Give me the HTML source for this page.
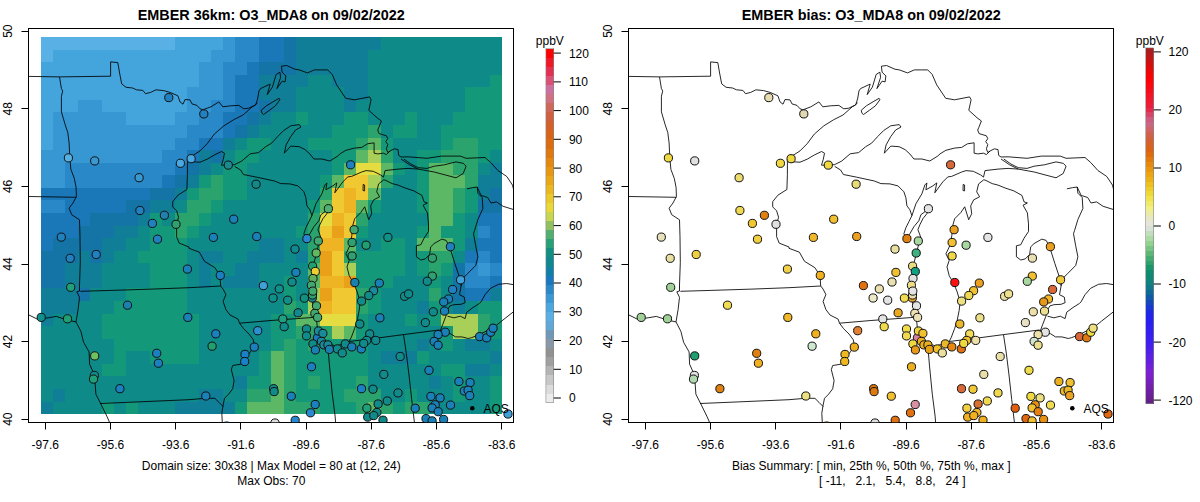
<!DOCTYPE html><html><head><meta charset="utf-8"><style>html,body{margin:0;padding:0;background:#fff;overflow:hidden}svg{display:block}text{font-family:"Liberation Sans",sans-serif}</style></head><body>
<svg width="1200" height="502" viewBox="0 0 1200 502">
<rect width="1200" height="502" fill="#fff"/>
<g shape-rendering="crispEdges">
<rect x="41.20" y="37.00" width="133.62" height="12.87" fill="#58b0e4"/>
<rect x="174.52" y="37.00" width="48.78" height="12.87" fill="#44a4dc"/>
<rect x="223.00" y="37.00" width="12.42" height="12.87" fill="#3797d3"/>
<rect x="235.12" y="37.00" width="24.54" height="12.87" fill="#2888c8"/>
<rect x="259.36" y="37.00" width="24.54" height="12.87" fill="#1a77b8"/>
<rect x="283.60" y="37.00" width="12.42" height="12.87" fill="#1474a6"/>
<rect x="295.72" y="37.00" width="85.14" height="12.87" fill="#0f7e96"/>
<rect x="380.56" y="37.00" width="121.50" height="12.87" fill="#0e8a88"/>
<rect x="41.20" y="49.57" width="12.42" height="12.87" fill="#58b0e4"/>
<rect x="53.32" y="49.57" width="157.86" height="12.87" fill="#44a4dc"/>
<rect x="210.88" y="49.57" width="24.54" height="12.87" fill="#3797d3"/>
<rect x="235.12" y="49.57" width="24.54" height="12.87" fill="#2888c8"/>
<rect x="259.36" y="49.57" width="24.54" height="12.87" fill="#1a77b8"/>
<rect x="283.60" y="49.57" width="12.42" height="12.87" fill="#1474a6"/>
<rect x="295.72" y="49.57" width="73.02" height="12.87" fill="#0f7e96"/>
<rect x="368.44" y="49.57" width="133.62" height="12.87" fill="#0e8a88"/>
<rect x="41.20" y="62.14" width="157.86" height="12.87" fill="#44a4dc"/>
<rect x="198.76" y="62.14" width="24.54" height="12.87" fill="#3797d3"/>
<rect x="223.00" y="62.14" width="24.54" height="12.87" fill="#2888c8"/>
<rect x="247.24" y="62.14" width="12.42" height="12.87" fill="#1a77b8"/>
<rect x="259.36" y="62.14" width="36.66" height="12.87" fill="#1474a6"/>
<rect x="295.72" y="62.14" width="73.02" height="12.87" fill="#0f7e96"/>
<rect x="368.44" y="62.14" width="133.62" height="12.87" fill="#0e8a88"/>
<rect x="41.20" y="74.71" width="157.86" height="12.87" fill="#44a4dc"/>
<rect x="198.76" y="74.71" width="24.54" height="12.87" fill="#3797d3"/>
<rect x="223.00" y="74.71" width="12.42" height="12.87" fill="#2888c8"/>
<rect x="235.12" y="74.71" width="24.54" height="12.87" fill="#1a77b8"/>
<rect x="259.36" y="74.71" width="48.78" height="12.87" fill="#0f7e96"/>
<rect x="307.84" y="74.71" width="24.54" height="12.87" fill="#0e8a88"/>
<rect x="332.08" y="74.71" width="36.66" height="12.87" fill="#0f7e96"/>
<rect x="368.44" y="74.71" width="121.50" height="12.87" fill="#0e8a88"/>
<rect x="489.64" y="74.71" width="12.42" height="12.87" fill="#14987a"/>
<rect x="41.20" y="87.28" width="145.74" height="12.87" fill="#44a4dc"/>
<rect x="186.64" y="87.28" width="36.66" height="12.87" fill="#3797d3"/>
<rect x="223.00" y="87.28" width="12.42" height="12.87" fill="#2888c8"/>
<rect x="235.12" y="87.28" width="24.54" height="12.87" fill="#1a77b8"/>
<rect x="259.36" y="87.28" width="36.66" height="12.87" fill="#0f7e96"/>
<rect x="295.72" y="87.28" width="48.78" height="12.87" fill="#0e8a88"/>
<rect x="344.20" y="87.28" width="24.54" height="12.87" fill="#0f7e96"/>
<rect x="368.44" y="87.28" width="97.26" height="12.87" fill="#0e8a88"/>
<rect x="465.40" y="87.28" width="36.66" height="12.87" fill="#14987a"/>
<rect x="41.20" y="99.85" width="36.66" height="12.87" fill="#44a4dc"/>
<rect x="77.56" y="99.85" width="24.54" height="12.87" fill="#3797d3"/>
<rect x="101.80" y="99.85" width="85.14" height="12.87" fill="#44a4dc"/>
<rect x="186.64" y="99.85" width="24.54" height="12.87" fill="#3797d3"/>
<rect x="210.88" y="99.85" width="24.54" height="12.87" fill="#2888c8"/>
<rect x="235.12" y="99.85" width="24.54" height="12.87" fill="#1a77b8"/>
<rect x="259.36" y="99.85" width="12.42" height="12.87" fill="#1474a6"/>
<rect x="271.48" y="99.85" width="24.54" height="12.87" fill="#0f7e96"/>
<rect x="295.72" y="99.85" width="48.78" height="12.87" fill="#0e8a88"/>
<rect x="344.20" y="99.85" width="12.42" height="12.87" fill="#0f7e96"/>
<rect x="356.32" y="99.85" width="109.38" height="12.87" fill="#0e8a88"/>
<rect x="465.40" y="99.85" width="36.66" height="12.87" fill="#14987a"/>
<rect x="41.20" y="112.42" width="12.42" height="12.87" fill="#44a4dc"/>
<rect x="53.32" y="112.42" width="73.02" height="12.87" fill="#3797d3"/>
<rect x="126.04" y="112.42" width="48.78" height="12.87" fill="#44a4dc"/>
<rect x="174.52" y="112.42" width="24.54" height="12.87" fill="#3797d3"/>
<rect x="198.76" y="112.42" width="24.54" height="12.87" fill="#2888c8"/>
<rect x="223.00" y="112.42" width="24.54" height="12.87" fill="#1a77b8"/>
<rect x="247.24" y="112.42" width="12.42" height="12.87" fill="#1474a6"/>
<rect x="259.36" y="112.42" width="12.42" height="12.87" fill="#0f7e96"/>
<rect x="271.48" y="112.42" width="24.54" height="12.87" fill="#0e8a88"/>
<rect x="295.72" y="112.42" width="12.42" height="12.87" fill="#14987a"/>
<rect x="307.84" y="112.42" width="36.66" height="12.87" fill="#0e8a88"/>
<rect x="344.20" y="112.42" width="24.54" height="12.87" fill="#14987a"/>
<rect x="368.44" y="112.42" width="36.66" height="12.87" fill="#0e8a88"/>
<rect x="404.80" y="112.42" width="12.42" height="12.87" fill="#14987a"/>
<rect x="416.92" y="112.42" width="36.66" height="12.87" fill="#0e8a88"/>
<rect x="453.28" y="112.42" width="48.78" height="12.87" fill="#14987a"/>
<rect x="41.20" y="124.99" width="12.42" height="12.87" fill="#44a4dc"/>
<rect x="53.32" y="124.99" width="133.62" height="12.87" fill="#3797d3"/>
<rect x="186.64" y="124.99" width="36.66" height="12.87" fill="#2888c8"/>
<rect x="223.00" y="124.99" width="12.42" height="12.87" fill="#1a77b8"/>
<rect x="235.12" y="124.99" width="12.42" height="12.87" fill="#1474a6"/>
<rect x="247.24" y="124.99" width="12.42" height="12.87" fill="#0f7e96"/>
<rect x="259.36" y="124.99" width="73.02" height="12.87" fill="#0e8a88"/>
<rect x="332.08" y="124.99" width="36.66" height="12.87" fill="#14987a"/>
<rect x="368.44" y="124.99" width="12.42" height="12.87" fill="#2aa46c"/>
<rect x="380.56" y="124.99" width="12.42" height="12.87" fill="#0e8a88"/>
<rect x="392.68" y="124.99" width="24.54" height="12.87" fill="#14987a"/>
<rect x="416.92" y="124.99" width="24.54" height="12.87" fill="#0e8a88"/>
<rect x="441.16" y="124.99" width="60.90" height="12.87" fill="#14987a"/>
<rect x="41.20" y="137.56" width="12.42" height="12.87" fill="#44a4dc"/>
<rect x="53.32" y="137.56" width="121.50" height="12.87" fill="#3797d3"/>
<rect x="174.52" y="137.56" width="24.54" height="12.87" fill="#2888c8"/>
<rect x="198.76" y="137.56" width="24.54" height="12.87" fill="#1a77b8"/>
<rect x="223.00" y="137.56" width="12.42" height="12.87" fill="#0f7e96"/>
<rect x="235.12" y="137.56" width="12.42" height="12.87" fill="#0e8a88"/>
<rect x="247.24" y="137.56" width="24.54" height="12.87" fill="#14987a"/>
<rect x="271.48" y="137.56" width="36.66" height="12.87" fill="#0e8a88"/>
<rect x="307.84" y="137.56" width="48.78" height="12.87" fill="#14987a"/>
<rect x="356.32" y="137.56" width="12.42" height="12.87" fill="#2aa46c"/>
<rect x="368.44" y="137.56" width="12.42" height="12.87" fill="#5db866"/>
<rect x="380.56" y="137.56" width="12.42" height="12.87" fill="#14987a"/>
<rect x="392.68" y="137.56" width="48.78" height="12.87" fill="#0e8a88"/>
<rect x="441.16" y="137.56" width="12.42" height="12.87" fill="#14987a"/>
<rect x="453.28" y="137.56" width="24.54" height="12.87" fill="#2aa46c"/>
<rect x="477.52" y="137.56" width="24.54" height="12.87" fill="#14987a"/>
<rect x="41.20" y="150.13" width="121.50" height="12.87" fill="#3797d3"/>
<rect x="162.40" y="150.13" width="24.54" height="12.87" fill="#2888c8"/>
<rect x="186.64" y="150.13" width="12.42" height="12.87" fill="#1a77b8"/>
<rect x="198.76" y="150.13" width="12.42" height="12.87" fill="#0f7e96"/>
<rect x="210.88" y="150.13" width="12.42" height="12.87" fill="#1474a6"/>
<rect x="223.00" y="150.13" width="12.42" height="12.87" fill="#0e8a88"/>
<rect x="235.12" y="150.13" width="24.54" height="12.87" fill="#14987a"/>
<rect x="259.36" y="150.13" width="73.02" height="12.87" fill="#0e8a88"/>
<rect x="332.08" y="150.13" width="24.54" height="12.87" fill="#14987a"/>
<rect x="356.32" y="150.13" width="12.42" height="12.87" fill="#5db866"/>
<rect x="368.44" y="150.13" width="12.42" height="12.87" fill="#a8d058"/>
<rect x="380.56" y="150.13" width="12.42" height="12.87" fill="#2aa46c"/>
<rect x="392.68" y="150.13" width="24.54" height="12.87" fill="#0e8a88"/>
<rect x="416.92" y="150.13" width="24.54" height="12.87" fill="#14987a"/>
<rect x="441.16" y="150.13" width="36.66" height="12.87" fill="#2aa46c"/>
<rect x="477.52" y="150.13" width="12.42" height="12.87" fill="#14987a"/>
<rect x="489.64" y="150.13" width="12.42" height="12.87" fill="#0e8a88"/>
<rect x="41.20" y="162.70" width="24.54" height="12.87" fill="#3797d3"/>
<rect x="65.44" y="162.70" width="109.38" height="12.87" fill="#2888c8"/>
<rect x="174.52" y="162.70" width="12.42" height="12.87" fill="#1a77b8"/>
<rect x="186.64" y="162.70" width="12.42" height="12.87" fill="#1474a6"/>
<rect x="198.76" y="162.70" width="12.42" height="12.87" fill="#0f7e96"/>
<rect x="210.88" y="162.70" width="12.42" height="12.87" fill="#0e8a88"/>
<rect x="223.00" y="162.70" width="24.54" height="12.87" fill="#14987a"/>
<rect x="247.24" y="162.70" width="85.14" height="12.87" fill="#0e8a88"/>
<rect x="332.08" y="162.70" width="12.42" height="12.87" fill="#14987a"/>
<rect x="344.20" y="162.70" width="12.42" height="12.87" fill="#5db866"/>
<rect x="356.32" y="162.70" width="24.54" height="12.87" fill="#e4dc40"/>
<rect x="380.56" y="162.70" width="12.42" height="12.87" fill="#5db866"/>
<rect x="392.68" y="162.70" width="12.42" height="12.87" fill="#14987a"/>
<rect x="404.80" y="162.70" width="12.42" height="12.87" fill="#0e8a88"/>
<rect x="416.92" y="162.70" width="12.42" height="12.87" fill="#14987a"/>
<rect x="429.04" y="162.70" width="24.54" height="12.87" fill="#5db866"/>
<rect x="453.28" y="162.70" width="24.54" height="12.87" fill="#2aa46c"/>
<rect x="477.52" y="162.70" width="12.42" height="12.87" fill="#0e8a88"/>
<rect x="489.64" y="162.70" width="12.42" height="12.87" fill="#0f7e96"/>
<rect x="41.20" y="175.27" width="24.54" height="12.87" fill="#3797d3"/>
<rect x="65.44" y="175.27" width="97.26" height="12.87" fill="#2888c8"/>
<rect x="162.40" y="175.27" width="12.42" height="12.87" fill="#1a77b8"/>
<rect x="174.52" y="175.27" width="12.42" height="12.87" fill="#1474a6"/>
<rect x="186.64" y="175.27" width="12.42" height="12.87" fill="#0f7e96"/>
<rect x="198.76" y="175.27" width="12.42" height="12.87" fill="#14987a"/>
<rect x="210.88" y="175.27" width="12.42" height="12.87" fill="#2aa46c"/>
<rect x="223.00" y="175.27" width="24.54" height="12.87" fill="#14987a"/>
<rect x="247.24" y="175.27" width="73.02" height="12.87" fill="#0e8a88"/>
<rect x="319.96" y="175.27" width="12.42" height="12.87" fill="#14987a"/>
<rect x="332.08" y="175.27" width="12.42" height="12.87" fill="#5db866"/>
<rect x="344.20" y="175.27" width="24.54" height="12.87" fill="#f0c832"/>
<rect x="368.44" y="175.27" width="12.42" height="12.87" fill="#a8d058"/>
<rect x="380.56" y="175.27" width="12.42" height="12.87" fill="#2aa46c"/>
<rect x="392.68" y="175.27" width="24.54" height="12.87" fill="#0e8a88"/>
<rect x="416.92" y="175.27" width="12.42" height="12.87" fill="#14987a"/>
<rect x="429.04" y="175.27" width="36.66" height="12.87" fill="#5db866"/>
<rect x="465.40" y="175.27" width="12.42" height="12.87" fill="#2aa46c"/>
<rect x="477.52" y="175.27" width="24.54" height="12.87" fill="#0f7e96"/>
<rect x="41.20" y="187.84" width="109.38" height="12.87" fill="#1a77b8"/>
<rect x="150.28" y="187.84" width="24.54" height="12.87" fill="#1474a6"/>
<rect x="174.52" y="187.84" width="12.42" height="12.87" fill="#0f7e96"/>
<rect x="186.64" y="187.84" width="12.42" height="12.87" fill="#14987a"/>
<rect x="198.76" y="187.84" width="24.54" height="12.87" fill="#2aa46c"/>
<rect x="223.00" y="187.84" width="24.54" height="12.87" fill="#14987a"/>
<rect x="247.24" y="187.84" width="73.02" height="12.87" fill="#0e8a88"/>
<rect x="319.96" y="187.84" width="12.42" height="12.87" fill="#2aa46c"/>
<rect x="332.08" y="187.84" width="12.42" height="12.87" fill="#f0c832"/>
<rect x="344.20" y="187.84" width="12.42" height="12.87" fill="#eeb424"/>
<rect x="356.32" y="187.84" width="12.42" height="12.87" fill="#f0c832"/>
<rect x="368.44" y="187.84" width="12.42" height="12.87" fill="#5db866"/>
<rect x="380.56" y="187.84" width="36.66" height="12.87" fill="#0e8a88"/>
<rect x="416.92" y="187.84" width="12.42" height="12.87" fill="#14987a"/>
<rect x="429.04" y="187.84" width="24.54" height="12.87" fill="#5db866"/>
<rect x="453.28" y="187.84" width="12.42" height="12.87" fill="#2aa46c"/>
<rect x="465.40" y="187.84" width="12.42" height="12.87" fill="#14987a"/>
<rect x="477.52" y="187.84" width="12.42" height="12.87" fill="#0f7e96"/>
<rect x="489.64" y="187.84" width="12.42" height="12.87" fill="#1474a6"/>
<rect x="41.20" y="200.41" width="24.54" height="12.87" fill="#2888c8"/>
<rect x="65.44" y="200.41" width="60.90" height="12.87" fill="#1a77b8"/>
<rect x="126.04" y="200.41" width="24.54" height="12.87" fill="#1474a6"/>
<rect x="150.28" y="200.41" width="24.54" height="12.87" fill="#0f7e96"/>
<rect x="174.52" y="200.41" width="12.42" height="12.87" fill="#0e8a88"/>
<rect x="186.64" y="200.41" width="24.54" height="12.87" fill="#2aa46c"/>
<rect x="210.88" y="200.41" width="12.42" height="12.87" fill="#14987a"/>
<rect x="223.00" y="200.41" width="85.14" height="12.87" fill="#0e8a88"/>
<rect x="307.84" y="200.41" width="12.42" height="12.87" fill="#14987a"/>
<rect x="319.96" y="200.41" width="12.42" height="12.87" fill="#5db866"/>
<rect x="332.08" y="200.41" width="12.42" height="12.87" fill="#f0c832"/>
<rect x="344.20" y="200.41" width="12.42" height="12.87" fill="#eeb424"/>
<rect x="356.32" y="200.41" width="12.42" height="12.87" fill="#5db866"/>
<rect x="368.44" y="200.41" width="12.42" height="12.87" fill="#14987a"/>
<rect x="380.56" y="200.41" width="36.66" height="12.87" fill="#0e8a88"/>
<rect x="416.92" y="200.41" width="12.42" height="12.87" fill="#14987a"/>
<rect x="429.04" y="200.41" width="24.54" height="12.87" fill="#5db866"/>
<rect x="453.28" y="200.41" width="12.42" height="12.87" fill="#2aa46c"/>
<rect x="465.40" y="200.41" width="12.42" height="12.87" fill="#14987a"/>
<rect x="477.52" y="200.41" width="24.54" height="12.87" fill="#1474a6"/>
<rect x="41.20" y="212.98" width="48.78" height="12.87" fill="#1a77b8"/>
<rect x="89.68" y="212.98" width="48.78" height="12.87" fill="#1474a6"/>
<rect x="138.16" y="212.98" width="12.42" height="12.87" fill="#0f7e96"/>
<rect x="150.28" y="212.98" width="12.42" height="12.87" fill="#14987a"/>
<rect x="162.40" y="212.98" width="12.42" height="12.87" fill="#0e8a88"/>
<rect x="174.52" y="212.98" width="24.54" height="12.87" fill="#2aa46c"/>
<rect x="198.76" y="212.98" width="12.42" height="12.87" fill="#14987a"/>
<rect x="210.88" y="212.98" width="97.26" height="12.87" fill="#0e8a88"/>
<rect x="307.84" y="212.98" width="12.42" height="12.87" fill="#2aa46c"/>
<rect x="319.96" y="212.98" width="12.42" height="12.87" fill="#e4dc40"/>
<rect x="332.08" y="212.98" width="12.42" height="12.87" fill="#eeb424"/>
<rect x="344.20" y="212.98" width="12.42" height="12.87" fill="#f0c832"/>
<rect x="356.32" y="212.98" width="12.42" height="12.87" fill="#2aa46c"/>
<rect x="368.44" y="212.98" width="60.90" height="12.87" fill="#0e8a88"/>
<rect x="429.04" y="212.98" width="24.54" height="12.87" fill="#5db866"/>
<rect x="453.28" y="212.98" width="12.42" height="12.87" fill="#14987a"/>
<rect x="465.40" y="212.98" width="12.42" height="12.87" fill="#0e8a88"/>
<rect x="477.52" y="212.98" width="24.54" height="12.87" fill="#1a77b8"/>
<rect x="41.20" y="225.55" width="36.66" height="12.87" fill="#1a77b8"/>
<rect x="77.56" y="225.55" width="36.66" height="12.87" fill="#1474a6"/>
<rect x="113.92" y="225.55" width="24.54" height="12.87" fill="#0f7e96"/>
<rect x="138.16" y="225.55" width="12.42" height="12.87" fill="#0e8a88"/>
<rect x="150.28" y="225.55" width="24.54" height="12.87" fill="#14987a"/>
<rect x="174.52" y="225.55" width="12.42" height="12.87" fill="#2aa46c"/>
<rect x="186.64" y="225.55" width="12.42" height="12.87" fill="#14987a"/>
<rect x="198.76" y="225.55" width="97.26" height="12.87" fill="#0e8a88"/>
<rect x="295.72" y="225.55" width="12.42" height="12.87" fill="#14987a"/>
<rect x="307.84" y="225.55" width="12.42" height="12.87" fill="#2aa46c"/>
<rect x="319.96" y="225.55" width="12.42" height="12.87" fill="#f0c832"/>
<rect x="332.08" y="225.55" width="12.42" height="12.87" fill="#e9a11a"/>
<rect x="344.20" y="225.55" width="12.42" height="12.87" fill="#f0c832"/>
<rect x="356.32" y="225.55" width="12.42" height="12.87" fill="#14987a"/>
<rect x="368.44" y="225.55" width="48.78" height="12.87" fill="#0e8a88"/>
<rect x="416.92" y="225.55" width="12.42" height="12.87" fill="#14987a"/>
<rect x="429.04" y="225.55" width="12.42" height="12.87" fill="#5db866"/>
<rect x="441.16" y="225.55" width="24.54" height="12.87" fill="#14987a"/>
<rect x="465.40" y="225.55" width="12.42" height="12.87" fill="#0e8a88"/>
<rect x="477.52" y="225.55" width="12.42" height="12.87" fill="#2888c8"/>
<rect x="489.64" y="225.55" width="12.42" height="12.87" fill="#1a77b8"/>
<rect x="41.20" y="238.12" width="12.42" height="12.87" fill="#1a77b8"/>
<rect x="53.32" y="238.12" width="48.78" height="12.87" fill="#1474a6"/>
<rect x="101.80" y="238.12" width="24.54" height="12.87" fill="#0f7e96"/>
<rect x="126.04" y="238.12" width="24.54" height="12.87" fill="#0e8a88"/>
<rect x="150.28" y="238.12" width="36.66" height="12.87" fill="#14987a"/>
<rect x="186.64" y="238.12" width="73.02" height="12.87" fill="#0e8a88"/>
<rect x="259.36" y="238.12" width="24.54" height="12.87" fill="#0f7e96"/>
<rect x="283.60" y="238.12" width="24.54" height="12.87" fill="#0e8a88"/>
<rect x="307.84" y="238.12" width="12.42" height="12.87" fill="#2aa46c"/>
<rect x="319.96" y="238.12" width="24.54" height="12.87" fill="#eeb424"/>
<rect x="344.20" y="238.12" width="12.42" height="12.87" fill="#5db866"/>
<rect x="356.32" y="238.12" width="24.54" height="12.87" fill="#0e8a88"/>
<rect x="380.56" y="238.12" width="24.54" height="12.87" fill="#14987a"/>
<rect x="404.80" y="238.12" width="12.42" height="12.87" fill="#0e8a88"/>
<rect x="416.92" y="238.12" width="36.66" height="12.87" fill="#5db866"/>
<rect x="453.28" y="238.12" width="12.42" height="12.87" fill="#14987a"/>
<rect x="465.40" y="238.12" width="12.42" height="12.87" fill="#0f7e96"/>
<rect x="477.52" y="238.12" width="24.54" height="12.87" fill="#1a77b8"/>
<rect x="41.20" y="250.69" width="36.66" height="12.87" fill="#1474a6"/>
<rect x="77.56" y="250.69" width="12.42" height="12.87" fill="#0f7e96"/>
<rect x="89.68" y="250.69" width="12.42" height="12.87" fill="#1474a6"/>
<rect x="101.80" y="250.69" width="12.42" height="12.87" fill="#0f7e96"/>
<rect x="113.92" y="250.69" width="24.54" height="12.87" fill="#0e8a88"/>
<rect x="138.16" y="250.69" width="48.78" height="12.87" fill="#14987a"/>
<rect x="186.64" y="250.69" width="12.42" height="12.87" fill="#0e8a88"/>
<rect x="198.76" y="250.69" width="24.54" height="12.87" fill="#0f7e96"/>
<rect x="223.00" y="250.69" width="24.54" height="12.87" fill="#0e8a88"/>
<rect x="247.24" y="250.69" width="36.66" height="12.87" fill="#0f7e96"/>
<rect x="283.60" y="250.69" width="12.42" height="12.87" fill="#0e8a88"/>
<rect x="295.72" y="250.69" width="12.42" height="12.87" fill="#0f7e96"/>
<rect x="307.84" y="250.69" width="12.42" height="12.87" fill="#2aa46c"/>
<rect x="319.96" y="250.69" width="12.42" height="12.87" fill="#e9a11a"/>
<rect x="332.08" y="250.69" width="12.42" height="12.87" fill="#f0c832"/>
<rect x="344.20" y="250.69" width="12.42" height="12.87" fill="#2aa46c"/>
<rect x="356.32" y="250.69" width="48.78" height="12.87" fill="#14987a"/>
<rect x="404.80" y="250.69" width="12.42" height="12.87" fill="#0e8a88"/>
<rect x="416.92" y="250.69" width="12.42" height="12.87" fill="#14987a"/>
<rect x="429.04" y="250.69" width="24.54" height="12.87" fill="#2aa46c"/>
<rect x="453.28" y="250.69" width="12.42" height="12.87" fill="#0e8a88"/>
<rect x="465.40" y="250.69" width="12.42" height="12.87" fill="#1a77b8"/>
<rect x="477.52" y="250.69" width="12.42" height="12.87" fill="#2888c8"/>
<rect x="489.64" y="250.69" width="12.42" height="12.87" fill="#1a77b8"/>
<rect x="41.20" y="263.26" width="24.54" height="12.87" fill="#1474a6"/>
<rect x="65.44" y="263.26" width="36.66" height="12.87" fill="#0f7e96"/>
<rect x="101.80" y="263.26" width="48.78" height="12.87" fill="#0e8a88"/>
<rect x="150.28" y="263.26" width="36.66" height="12.87" fill="#14987a"/>
<rect x="186.64" y="263.26" width="12.42" height="12.87" fill="#0e8a88"/>
<rect x="198.76" y="263.26" width="12.42" height="12.87" fill="#0f7e96"/>
<rect x="210.88" y="263.26" width="24.54" height="12.87" fill="#0e8a88"/>
<rect x="235.12" y="263.26" width="24.54" height="12.87" fill="#0f7e96"/>
<rect x="259.36" y="263.26" width="48.78" height="12.87" fill="#0e8a88"/>
<rect x="307.84" y="263.26" width="12.42" height="12.87" fill="#5db866"/>
<rect x="319.96" y="263.26" width="12.42" height="12.87" fill="#e9a11a"/>
<rect x="332.08" y="263.26" width="12.42" height="12.87" fill="#f0c832"/>
<rect x="344.20" y="263.26" width="12.42" height="12.87" fill="#a8d058"/>
<rect x="356.32" y="263.26" width="48.78" height="12.87" fill="#14987a"/>
<rect x="404.80" y="263.26" width="12.42" height="12.87" fill="#0e8a88"/>
<rect x="416.92" y="263.26" width="12.42" height="12.87" fill="#14987a"/>
<rect x="429.04" y="263.26" width="12.42" height="12.87" fill="#2aa46c"/>
<rect x="441.16" y="263.26" width="12.42" height="12.87" fill="#14987a"/>
<rect x="453.28" y="263.26" width="12.42" height="12.87" fill="#1474a6"/>
<rect x="465.40" y="263.26" width="12.42" height="12.87" fill="#2888c8"/>
<rect x="477.52" y="263.26" width="12.42" height="12.87" fill="#3797d3"/>
<rect x="489.64" y="263.26" width="12.42" height="12.87" fill="#2888c8"/>
<rect x="41.20" y="275.83" width="24.54" height="12.87" fill="#1474a6"/>
<rect x="65.44" y="275.83" width="36.66" height="12.87" fill="#0f7e96"/>
<rect x="101.80" y="275.83" width="48.78" height="12.87" fill="#0e8a88"/>
<rect x="150.28" y="275.83" width="36.66" height="12.87" fill="#14987a"/>
<rect x="186.64" y="275.83" width="12.42" height="12.87" fill="#0e8a88"/>
<rect x="198.76" y="275.83" width="12.42" height="12.87" fill="#0f7e96"/>
<rect x="210.88" y="275.83" width="12.42" height="12.87" fill="#0e8a88"/>
<rect x="223.00" y="275.83" width="36.66" height="12.87" fill="#0f7e96"/>
<rect x="259.36" y="275.83" width="24.54" height="12.87" fill="#0e8a88"/>
<rect x="283.60" y="275.83" width="12.42" height="12.87" fill="#14987a"/>
<rect x="295.72" y="275.83" width="12.42" height="12.87" fill="#0e8a88"/>
<rect x="307.84" y="275.83" width="12.42" height="12.87" fill="#5db866"/>
<rect x="319.96" y="275.83" width="24.54" height="12.87" fill="#eeb424"/>
<rect x="344.20" y="275.83" width="12.42" height="12.87" fill="#e9a11a"/>
<rect x="356.32" y="275.83" width="36.66" height="12.87" fill="#14987a"/>
<rect x="392.68" y="275.83" width="36.66" height="12.87" fill="#0e8a88"/>
<rect x="429.04" y="275.83" width="12.42" height="12.87" fill="#14987a"/>
<rect x="441.16" y="275.83" width="12.42" height="12.87" fill="#0e8a88"/>
<rect x="453.28" y="275.83" width="12.42" height="12.87" fill="#1474a6"/>
<rect x="465.40" y="275.83" width="24.54" height="12.87" fill="#2888c8"/>
<rect x="489.64" y="275.83" width="12.42" height="12.87" fill="#1a77b8"/>
<rect x="41.20" y="288.40" width="36.66" height="12.87" fill="#0f7e96"/>
<rect x="77.56" y="288.40" width="12.42" height="12.87" fill="#1474a6"/>
<rect x="89.68" y="288.40" width="36.66" height="12.87" fill="#0e8a88"/>
<rect x="126.04" y="288.40" width="60.90" height="12.87" fill="#14987a"/>
<rect x="186.64" y="288.40" width="97.26" height="12.87" fill="#0e8a88"/>
<rect x="283.60" y="288.40" width="12.42" height="12.87" fill="#14987a"/>
<rect x="295.72" y="288.40" width="12.42" height="12.87" fill="#0e8a88"/>
<rect x="307.84" y="288.40" width="12.42" height="12.87" fill="#a8d058"/>
<rect x="319.96" y="288.40" width="12.42" height="12.87" fill="#e9a11a"/>
<rect x="332.08" y="288.40" width="24.54" height="12.87" fill="#f0c832"/>
<rect x="356.32" y="288.40" width="12.42" height="12.87" fill="#2aa46c"/>
<rect x="368.44" y="288.40" width="12.42" height="12.87" fill="#14987a"/>
<rect x="380.56" y="288.40" width="48.78" height="12.87" fill="#0e8a88"/>
<rect x="429.04" y="288.40" width="12.42" height="12.87" fill="#2aa46c"/>
<rect x="441.16" y="288.40" width="12.42" height="12.87" fill="#0e8a88"/>
<rect x="453.28" y="288.40" width="12.42" height="12.87" fill="#1474a6"/>
<rect x="465.40" y="288.40" width="24.54" height="12.87" fill="#1a77b8"/>
<rect x="489.64" y="288.40" width="12.42" height="12.87" fill="#0f7e96"/>
<rect x="41.20" y="300.97" width="36.66" height="12.87" fill="#0f7e96"/>
<rect x="77.56" y="300.97" width="36.66" height="12.87" fill="#0e8a88"/>
<rect x="113.92" y="300.97" width="73.02" height="12.87" fill="#14987a"/>
<rect x="186.64" y="300.97" width="97.26" height="12.87" fill="#0e8a88"/>
<rect x="283.60" y="300.97" width="12.42" height="12.87" fill="#2aa46c"/>
<rect x="295.72" y="300.97" width="12.42" height="12.87" fill="#14987a"/>
<rect x="307.84" y="300.97" width="12.42" height="12.87" fill="#a8d058"/>
<rect x="319.96" y="300.97" width="12.42" height="12.87" fill="#eeb424"/>
<rect x="332.08" y="300.97" width="24.54" height="12.87" fill="#f0c832"/>
<rect x="356.32" y="300.97" width="12.42" height="12.87" fill="#2aa46c"/>
<rect x="368.44" y="300.97" width="12.42" height="12.87" fill="#14987a"/>
<rect x="380.56" y="300.97" width="36.66" height="12.87" fill="#0e8a88"/>
<rect x="416.92" y="300.97" width="12.42" height="12.87" fill="#0f7e96"/>
<rect x="429.04" y="300.97" width="12.42" height="12.87" fill="#14987a"/>
<rect x="441.16" y="300.97" width="12.42" height="12.87" fill="#0e8a88"/>
<rect x="453.28" y="300.97" width="12.42" height="12.87" fill="#0f7e96"/>
<rect x="465.40" y="300.97" width="12.42" height="12.87" fill="#0e8a88"/>
<rect x="477.52" y="300.97" width="24.54" height="12.87" fill="#14987a"/>
<rect x="41.20" y="313.54" width="12.42" height="12.87" fill="#0f7e96"/>
<rect x="53.32" y="313.54" width="48.78" height="12.87" fill="#0e8a88"/>
<rect x="101.80" y="313.54" width="97.26" height="12.87" fill="#14987a"/>
<rect x="198.76" y="313.54" width="73.02" height="12.87" fill="#0e8a88"/>
<rect x="271.48" y="313.54" width="24.54" height="12.87" fill="#14987a"/>
<rect x="295.72" y="313.54" width="24.54" height="12.87" fill="#5db866"/>
<rect x="319.96" y="313.54" width="36.66" height="12.87" fill="#e4dc40"/>
<rect x="356.32" y="313.54" width="12.42" height="12.87" fill="#14987a"/>
<rect x="368.44" y="313.54" width="36.66" height="12.87" fill="#0e8a88"/>
<rect x="404.80" y="313.54" width="12.42" height="12.87" fill="#14987a"/>
<rect x="416.92" y="313.54" width="12.42" height="12.87" fill="#0e8a88"/>
<rect x="429.04" y="313.54" width="12.42" height="12.87" fill="#14987a"/>
<rect x="441.16" y="313.54" width="36.66" height="12.87" fill="#a8d058"/>
<rect x="477.52" y="313.54" width="12.42" height="12.87" fill="#2aa46c"/>
<rect x="489.64" y="313.54" width="12.42" height="12.87" fill="#14987a"/>
<rect x="41.20" y="326.11" width="60.90" height="12.87" fill="#0e8a88"/>
<rect x="101.80" y="326.11" width="97.26" height="12.87" fill="#14987a"/>
<rect x="198.76" y="326.11" width="73.02" height="12.87" fill="#0e8a88"/>
<rect x="271.48" y="326.11" width="24.54" height="12.87" fill="#14987a"/>
<rect x="295.72" y="326.11" width="36.66" height="12.87" fill="#2aa46c"/>
<rect x="332.08" y="326.11" width="12.42" height="12.87" fill="#a8d058"/>
<rect x="344.20" y="326.11" width="12.42" height="12.87" fill="#5db866"/>
<rect x="356.32" y="326.11" width="12.42" height="12.87" fill="#14987a"/>
<rect x="368.44" y="326.11" width="73.02" height="12.87" fill="#0e8a88"/>
<rect x="441.16" y="326.11" width="12.42" height="12.87" fill="#14987a"/>
<rect x="453.28" y="326.11" width="24.54" height="12.87" fill="#a8d058"/>
<rect x="477.52" y="326.11" width="12.42" height="12.87" fill="#2aa46c"/>
<rect x="489.64" y="326.11" width="12.42" height="12.87" fill="#14987a"/>
<rect x="41.20" y="338.68" width="73.02" height="12.87" fill="#0e8a88"/>
<rect x="113.92" y="338.68" width="85.14" height="12.87" fill="#14987a"/>
<rect x="198.76" y="338.68" width="73.02" height="12.87" fill="#0e8a88"/>
<rect x="271.48" y="338.68" width="12.42" height="12.87" fill="#14987a"/>
<rect x="283.60" y="338.68" width="12.42" height="12.87" fill="#2aa46c"/>
<rect x="295.72" y="338.68" width="12.42" height="12.87" fill="#14987a"/>
<rect x="307.84" y="338.68" width="12.42" height="12.87" fill="#2aa46c"/>
<rect x="319.96" y="338.68" width="48.78" height="12.87" fill="#14987a"/>
<rect x="368.44" y="338.68" width="48.78" height="12.87" fill="#0e8a88"/>
<rect x="416.92" y="338.68" width="12.42" height="12.87" fill="#0f7e96"/>
<rect x="429.04" y="338.68" width="12.42" height="12.87" fill="#0e8a88"/>
<rect x="441.16" y="338.68" width="12.42" height="12.87" fill="#14987a"/>
<rect x="453.28" y="338.68" width="12.42" height="12.87" fill="#0e8a88"/>
<rect x="465.40" y="338.68" width="24.54" height="12.87" fill="#0f7e96"/>
<rect x="489.64" y="338.68" width="12.42" height="12.87" fill="#0e8a88"/>
<rect x="41.20" y="351.25" width="73.02" height="12.87" fill="#0e8a88"/>
<rect x="113.92" y="351.25" width="12.42" height="12.87" fill="#14987a"/>
<rect x="126.04" y="351.25" width="24.54" height="12.87" fill="#0e8a88"/>
<rect x="150.28" y="351.25" width="48.78" height="12.87" fill="#14987a"/>
<rect x="198.76" y="351.25" width="60.90" height="12.87" fill="#0e8a88"/>
<rect x="259.36" y="351.25" width="12.42" height="12.87" fill="#14987a"/>
<rect x="271.48" y="351.25" width="12.42" height="12.87" fill="#5db866"/>
<rect x="283.60" y="351.25" width="12.42" height="12.87" fill="#2aa46c"/>
<rect x="295.72" y="351.25" width="73.02" height="12.87" fill="#14987a"/>
<rect x="368.44" y="351.25" width="12.42" height="12.87" fill="#0e8a88"/>
<rect x="380.56" y="351.25" width="36.66" height="12.87" fill="#0f7e96"/>
<rect x="416.92" y="351.25" width="12.42" height="12.87" fill="#14987a"/>
<rect x="429.04" y="351.25" width="60.90" height="12.87" fill="#0e8a88"/>
<rect x="489.64" y="351.25" width="12.42" height="12.87" fill="#0f7e96"/>
<rect x="41.20" y="363.82" width="60.90" height="12.87" fill="#0e8a88"/>
<rect x="101.80" y="363.82" width="24.54" height="12.87" fill="#14987a"/>
<rect x="126.04" y="363.82" width="133.62" height="12.87" fill="#0e8a88"/>
<rect x="259.36" y="363.82" width="12.42" height="12.87" fill="#14987a"/>
<rect x="271.48" y="363.82" width="12.42" height="12.87" fill="#5db866"/>
<rect x="283.60" y="363.82" width="12.42" height="12.87" fill="#2aa46c"/>
<rect x="295.72" y="363.82" width="73.02" height="12.87" fill="#14987a"/>
<rect x="368.44" y="363.82" width="73.02" height="12.87" fill="#0e8a88"/>
<rect x="441.16" y="363.82" width="24.54" height="12.87" fill="#14987a"/>
<rect x="465.40" y="363.82" width="24.54" height="12.87" fill="#0f7e96"/>
<rect x="489.64" y="363.82" width="12.42" height="12.87" fill="#0e8a88"/>
<rect x="41.20" y="376.39" width="194.22" height="12.87" fill="#0e8a88"/>
<rect x="235.12" y="376.39" width="12.42" height="12.87" fill="#0f7e96"/>
<rect x="247.24" y="376.39" width="24.54" height="12.87" fill="#14987a"/>
<rect x="271.48" y="376.39" width="12.42" height="12.87" fill="#5db866"/>
<rect x="283.60" y="376.39" width="12.42" height="12.87" fill="#2aa46c"/>
<rect x="295.72" y="376.39" width="12.42" height="12.87" fill="#14987a"/>
<rect x="307.84" y="376.39" width="12.42" height="12.87" fill="#2aa46c"/>
<rect x="319.96" y="376.39" width="36.66" height="12.87" fill="#14987a"/>
<rect x="356.32" y="376.39" width="12.42" height="12.87" fill="#2aa46c"/>
<rect x="368.44" y="376.39" width="60.90" height="12.87" fill="#0e8a88"/>
<rect x="429.04" y="376.39" width="12.42" height="12.87" fill="#0f7e96"/>
<rect x="441.16" y="376.39" width="12.42" height="12.87" fill="#0e8a88"/>
<rect x="453.28" y="376.39" width="12.42" height="12.87" fill="#14987a"/>
<rect x="465.40" y="376.39" width="24.54" height="12.87" fill="#0e8a88"/>
<rect x="489.64" y="376.39" width="12.42" height="12.87" fill="#14987a"/>
<rect x="41.20" y="388.96" width="12.42" height="12.87" fill="#0e8a88"/>
<rect x="53.32" y="388.96" width="12.42" height="12.87" fill="#0f7e96"/>
<rect x="65.44" y="388.96" width="133.62" height="12.87" fill="#0e8a88"/>
<rect x="198.76" y="388.96" width="24.54" height="12.87" fill="#0f7e96"/>
<rect x="223.00" y="388.96" width="24.54" height="12.87" fill="#0e8a88"/>
<rect x="247.24" y="388.96" width="24.54" height="12.87" fill="#2aa46c"/>
<rect x="271.48" y="388.96" width="12.42" height="12.87" fill="#5db866"/>
<rect x="283.60" y="388.96" width="12.42" height="12.87" fill="#2aa46c"/>
<rect x="295.72" y="388.96" width="48.78" height="12.87" fill="#14987a"/>
<rect x="344.20" y="388.96" width="36.66" height="12.87" fill="#2aa46c"/>
<rect x="380.56" y="388.96" width="24.54" height="12.87" fill="#0e8a88"/>
<rect x="404.80" y="388.96" width="12.42" height="12.87" fill="#14987a"/>
<rect x="416.92" y="388.96" width="36.66" height="12.87" fill="#0e8a88"/>
<rect x="453.28" y="388.96" width="12.42" height="12.87" fill="#14987a"/>
<rect x="465.40" y="388.96" width="24.54" height="12.87" fill="#0e8a88"/>
<rect x="489.64" y="388.96" width="12.42" height="12.87" fill="#14987a"/>
<rect x="41.20" y="401.53" width="12.42" height="12.87" fill="#0f7e96"/>
<rect x="53.32" y="401.53" width="48.78" height="12.87" fill="#0e8a88"/>
<rect x="101.80" y="401.53" width="12.42" height="12.87" fill="#14987a"/>
<rect x="113.92" y="401.53" width="12.42" height="12.87" fill="#0e8a88"/>
<rect x="126.04" y="401.53" width="12.42" height="12.87" fill="#14987a"/>
<rect x="138.16" y="401.53" width="36.66" height="12.87" fill="#0e8a88"/>
<rect x="174.52" y="401.53" width="60.90" height="12.87" fill="#0f7e96"/>
<rect x="235.12" y="401.53" width="12.42" height="12.87" fill="#14987a"/>
<rect x="247.24" y="401.53" width="36.66" height="12.87" fill="#5db866"/>
<rect x="283.60" y="401.53" width="36.66" height="12.87" fill="#2aa46c"/>
<rect x="319.96" y="401.53" width="36.66" height="12.87" fill="#14987a"/>
<rect x="356.32" y="401.53" width="12.42" height="12.87" fill="#2aa46c"/>
<rect x="368.44" y="401.53" width="12.42" height="12.87" fill="#5db866"/>
<rect x="380.56" y="401.53" width="12.42" height="12.87" fill="#2aa46c"/>
<rect x="392.68" y="401.53" width="12.42" height="12.87" fill="#14987a"/>
<rect x="404.80" y="401.53" width="24.54" height="12.87" fill="#2aa46c"/>
<rect x="429.04" y="401.53" width="60.90" height="12.87" fill="#0e8a88"/>
<rect x="489.64" y="401.53" width="12.42" height="12.87" fill="#14987a"/>
</g>
<rect x="28.5" y="28.5" width="485" height="394" fill="none" stroke="#000" stroke-width="1"/>
<line x1="45.5" y1="422.5" x2="45.5" y2="429.5" stroke="#000" stroke-width="1"/>
<text x="45.3" y="448.5" font-size="12" text-anchor="middle">-97.6</text>
<line x1="110.5" y1="422.5" x2="110.5" y2="429.5" stroke="#000" stroke-width="1"/>
<text x="110.5" y="448.5" font-size="12" text-anchor="middle">-95.6</text>
<line x1="175.5" y1="422.5" x2="175.5" y2="429.5" stroke="#000" stroke-width="1"/>
<text x="175.7" y="448.5" font-size="12" text-anchor="middle">-93.6</text>
<line x1="240.5" y1="422.5" x2="240.5" y2="429.5" stroke="#000" stroke-width="1"/>
<text x="240.9" y="448.5" font-size="12" text-anchor="middle">-91.6</text>
<line x1="306.5" y1="422.5" x2="306.5" y2="429.5" stroke="#000" stroke-width="1"/>
<text x="306.1" y="448.5" font-size="12" text-anchor="middle">-89.6</text>
<line x1="371.5" y1="422.5" x2="371.5" y2="429.5" stroke="#000" stroke-width="1"/>
<text x="371.3" y="448.5" font-size="12" text-anchor="middle">-87.6</text>
<line x1="436.5" y1="422.5" x2="436.5" y2="429.5" stroke="#000" stroke-width="1"/>
<text x="436.5" y="448.5" font-size="12" text-anchor="middle">-85.6</text>
<line x1="501.5" y1="422.5" x2="501.5" y2="429.5" stroke="#000" stroke-width="1"/>
<text x="501.7" y="448.5" font-size="12" text-anchor="middle">-83.6</text>
<line x1="21.5" y1="419.5" x2="28.5" y2="419.5" stroke="#000" stroke-width="1"/>
<text transform="translate(11.5,419.2) rotate(-90)" font-size="12" text-anchor="middle">40</text>
<line x1="21.5" y1="341.5" x2="28.5" y2="341.5" stroke="#000" stroke-width="1"/>
<text transform="translate(11.5,341.6) rotate(-90)" font-size="12" text-anchor="middle">42</text>
<line x1="21.5" y1="264.5" x2="28.5" y2="264.5" stroke="#000" stroke-width="1"/>
<text transform="translate(11.5,264.0) rotate(-90)" font-size="12" text-anchor="middle">44</text>
<line x1="21.5" y1="186.5" x2="28.5" y2="186.5" stroke="#000" stroke-width="1"/>
<text transform="translate(11.5,186.4) rotate(-90)" font-size="12" text-anchor="middle">46</text>
<line x1="21.5" y1="108.5" x2="28.5" y2="108.5" stroke="#000" stroke-width="1"/>
<text transform="translate(11.5,108.8) rotate(-90)" font-size="12" text-anchor="middle">48</text>
<line x1="21.5" y1="31.5" x2="28.5" y2="31.5" stroke="#000" stroke-width="1"/>
<text transform="translate(11.5,31.2) rotate(-90)" font-size="12" text-anchor="middle">50</text>
<rect x="628.5" y="28.5" width="485" height="394" fill="none" stroke="#000" stroke-width="1"/>
<line x1="645.5" y1="422.5" x2="645.5" y2="429.5" stroke="#000" stroke-width="1"/>
<text x="645.3" y="448.5" font-size="12" text-anchor="middle">-97.6</text>
<line x1="710.5" y1="422.5" x2="710.5" y2="429.5" stroke="#000" stroke-width="1"/>
<text x="710.5" y="448.5" font-size="12" text-anchor="middle">-95.6</text>
<line x1="775.5" y1="422.5" x2="775.5" y2="429.5" stroke="#000" stroke-width="1"/>
<text x="775.7" y="448.5" font-size="12" text-anchor="middle">-93.6</text>
<line x1="840.5" y1="422.5" x2="840.5" y2="429.5" stroke="#000" stroke-width="1"/>
<text x="840.9" y="448.5" font-size="12" text-anchor="middle">-91.6</text>
<line x1="906.5" y1="422.5" x2="906.5" y2="429.5" stroke="#000" stroke-width="1"/>
<text x="906.1" y="448.5" font-size="12" text-anchor="middle">-89.6</text>
<line x1="971.5" y1="422.5" x2="971.5" y2="429.5" stroke="#000" stroke-width="1"/>
<text x="971.3" y="448.5" font-size="12" text-anchor="middle">-87.6</text>
<line x1="1036.5" y1="422.5" x2="1036.5" y2="429.5" stroke="#000" stroke-width="1"/>
<text x="1036.5" y="448.5" font-size="12" text-anchor="middle">-85.6</text>
<line x1="1101.5" y1="422.5" x2="1101.5" y2="429.5" stroke="#000" stroke-width="1"/>
<text x="1101.7" y="448.5" font-size="12" text-anchor="middle">-83.6</text>
<line x1="621.5" y1="419.5" x2="628.5" y2="419.5" stroke="#000" stroke-width="1"/>
<text transform="translate(611.5,419.2) rotate(-90)" font-size="12" text-anchor="middle">40</text>
<line x1="621.5" y1="341.5" x2="628.5" y2="341.5" stroke="#000" stroke-width="1"/>
<text transform="translate(611.5,341.6) rotate(-90)" font-size="12" text-anchor="middle">42</text>
<line x1="621.5" y1="264.5" x2="628.5" y2="264.5" stroke="#000" stroke-width="1"/>
<text transform="translate(611.5,264.0) rotate(-90)" font-size="12" text-anchor="middle">44</text>
<line x1="621.5" y1="186.5" x2="628.5" y2="186.5" stroke="#000" stroke-width="1"/>
<text transform="translate(611.5,186.4) rotate(-90)" font-size="12" text-anchor="middle">46</text>
<line x1="621.5" y1="108.5" x2="628.5" y2="108.5" stroke="#000" stroke-width="1"/>
<text transform="translate(611.5,108.8) rotate(-90)" font-size="12" text-anchor="middle">48</text>
<line x1="621.5" y1="31.5" x2="628.5" y2="31.5" stroke="#000" stroke-width="1"/>
<text transform="translate(611.5,31.2) rotate(-90)" font-size="12" text-anchor="middle">50</text>
<text x="271.3" y="20" font-size="14.4" font-weight="bold" text-anchor="middle">EMBER 36km: O3_MDA8 on 09/02/2022</text>
<text x="871.3" y="20" font-size="14.4" font-weight="bold" text-anchor="middle">EMBER bias: O3_MDA8 on 09/02/2022</text>
<text x="271.3" y="470" font-size="12" text-anchor="middle">Domain size: 30x38 | Max Model = 80 at (12, 24)</text>
<text x="271.3" y="484.5" font-size="12" text-anchor="middle">Max Obs: 70</text>
<text x="871.3" y="470" font-size="12" text-anchor="middle">Bias Summary: [ min, 25th %, 50th %, 75th %, max ]</text>
<text x="892.3" y="484.5" font-size="12" text-anchor="middle" xml:space="preserve">[ -11,   2.1,   5.4,   8.8,   24 ]</text>
<defs><clipPath id="cl"><rect x="28.9" y="28.7" width="484.8" height="393.5"/></clipPath><clipPath id="cr"><rect x="628.9" y="28.7" width="484.8" height="393.5"/></clipPath></defs>
<g clip-path="url(#cl)" fill="none" stroke="#000" stroke-width="0.85" stroke-linejoin="round">
<polyline points="29.0,76.4 59.5,76.9 110.6,76.2 110.6,61.9 117.8,62.6 119.6,73.0 121.7,83.9 126.1,87.3 132.6,88.0 136.4,89.8 142.9,90.4 145.5,93.7 150.7,92.4 155.9,89.8 163.6,90.6 170.1,92.4 177.9,95.8 180.0,101.9 183.0,104.2 185.0,99.5 190.0,99.9 192.0,103.9 197.0,105.4 200.0,108.8 202.9,109.8 210.9,106.8 218.9,101.9 222.8,106.8 230.8,105.8 238.8,105.4 243.8,108.8 248.7,108.2 254.7,105.4 257.6,102.8"/>
<polyline points="59.5,76.9 61.4,88.5 62.7,91.1 61.4,96.3 61.4,111.8 65.2,124.8 67.8,132.6 69.1,142.9 69.9,159.0 70.9,169.4 74.3,178.4 76.1,187.5 76.4,196.5 73.0,203.0 69.1,208.2 71.7,214.7 79.5,219.8 80.0,236.7 80.3,262.6 79.5,285.0 79.5,291.0"/>
<polyline points="29.0,196.5 76.4,197.3"/>
<polyline points="79.5,291.0 76.8,291.8 79.5,297.3 78.1,309.6 76.0,321.9 80.9,331.4 83.6,342.3 89.1,351.9 89.6,364.2 94.5,375.1 95.9,394.2 101.4,405.1 106.8,416.1 109.5,422.2"/>
<polyline points="29.0,315.0 37.2,319.1 48.1,317.8 56.3,316.4 67.2,320.0 76.0,321.9"/>
<polyline points="80.4,291.3 110.9,290.4 151.9,289.1 189.0,287.7 220.7,286.0"/>
<polyline points="100.0,403.5 138.2,401.9 189.0,399.7 205.4,398.3 214.9,398.3 219.0,402.4 223.1,406.5"/>
<polyline points="189.0,158.0 187.4,159.0 187.4,174.5 186.9,189.5 177.9,195.2 172.7,201.7 172.7,206.9 176.6,210.8 178.6,217.3 176.6,223.7 176.6,236.7 179.2,243.1 189.0,247.0 189.0,248.3 199.4,252.2 204.5,261.3 214.9,267.7 220.0,275.5 220.7,286.0 223.1,289.1 225.9,294.6 223.1,301.4 225.9,309.6 230.0,315.0 238.1,319.1 239.5,323.2 243.6,328.7 249.1,334.1 253.2,339.6 254.5,345.1 250.4,351.9 246.3,357.4 240.9,364.2 232.7,365.5 231.3,369.6 234.1,380.6 232.7,388.8 228.6,394.2 224.5,398.3 223.1,405.1 221.8,413.3 222.3,422.2"/>
<polyline points="239.5,323.2 270.9,320.5 316.3,317.2"/>
<polyline points="189.0,158.0 200.0,150.9 207.2,143.7 214.3,134.1 223.9,125.8 233.5,119.8 243.0,115.0 252.4,106.7 255.7,104.8 257.6,98.9 259.0,90.9 260.5,88.6 270.2,84.1 267.2,94.6 272.4,87.1 276.2,74.4 279.9,72.2 280.6,77.4 276.9,88.6 282.1,81.2 285.1,81.9 285.9,75.9 282.1,72.2 281.4,66.2 286.6,65.5 294.8,69.2 299.3,69.9 307.5,72.9 314.3,69.9 321.7,69.9 327.7,69.9 332.2,74.4 336.7,84.9 345.7,98.3 354.6,99.8 369.6,96.9 371.1,99.8 368.8,110.3 377.1,117.8 381.4,121.0 378.8,127.4 377.7,130.0 379.1,133.6 386.4,135.8 387.8,138.7 385.7,141.6 387.8,144.5 386.4,148.8 387.8,152.5 390.0,151.0 394.4,148.8 398.0,149.6 398.7,155.4 401.0,157.0 408.0,156.8 427.0,158.3 441.5,156.1 460.3,156.1 466.1,158.3 485.0,157.5 490.8,162.6 498.0,170.6 506.7,176.4 512.5,185.1 513.7,190.0"/>
<polyline points="262.0,113.3 261.2,110.3 266.4,105.8 273.9,101.3 279.1,98.3 279.9,99.8 275.4,105.8 269.4,110.3 263.5,114.5 262.0,113.3"/>
<polyline points="189.0,158.0 189.0,161.6 200.0,162.2 207.2,159.2 214.3,155.0 221.5,151.5 224.5,153.2 223.3,159.2 221.5,165.2 228.7,165.2 234.7,164.6 241.8,161.0 250.2,153.8 258.6,152.6 265.7,146.7 271.7,143.1 277.7,136.5 283.7,130.5 290.8,125.8 299.2,124.6 301.0,127.0 295.6,130.0 290.8,136.5 286.1,144.9 284.3,153.2 290.8,146.1 299.2,146.7 305.2,149.7 309.9,154.0 313.9,159.0 321.9,159.0 329.8,161.0 337.8,156.0 340.0,153.9 345.8,150.3 354.5,148.1 361.7,147.4 367.5,143.8 374.1,142.8 374.1,153.2 377.7,153.9 383.5,153.2 386.4,154.6 390.0,151.0"/>
<polyline points="234.7,166.4 240.6,170.0 243.4,174.5 256.3,177.1 274.4,181.0 280.9,183.6 290.0,183.9 298.0,185.9 303.9,191.8 305.9,197.8 306.9,205.8 309.9,209.8 311.9,215.7"/>
<polyline points="311.9,215.7 308.9,221.7 305.9,227.7 303.9,233.7 305.9,238.6 309.9,233.7 313.9,226.7 318.9,220.7 320.9,214.7 324.9,211.8 327.0,209.5 326.9,213.7 322.9,218.7 319.9,224.7 317.9,229.7 320.9,237.6 318.5,245.0 316.3,253.8 314.1,262.5 313.0,271.3 310.8,280.1 309.7,288.9 311.9,299.8 314.1,308.6 316.3,317.4 317.4,328.3 320.7,337.1 327.3,343.7 336.0,345.9 344.8,343.7 349.2,341.5 351.4,337.1 354.7,328.3 356.9,321.8 359.1,310.8 360.2,302.0 356.9,291.1 353.6,283.4 349.2,275.7 347.0,266.9 349.2,260.4 345.9,253.8 347.8,250.0 349.8,245.6 351.8,235.7 352.7,225.7 354.7,218.7 360.7,212.7 364.7,206.8 368.7,219.7 371.7,213.7 370.7,205.8 373.7,199.8 379.6,196.8 376.7,191.8 378.6,183.9 383.6,179.9 385.0,180.0 392.2,183.6 398.0,185.1 405.2,188.0 413.9,190.9 421.9,195.4 424.1,201.9 427.4,203.0 423.0,205.2 427.4,212.9 428.5,223.9 428.5,231.5 424.1,238.1 420.8,244.7 416.4,245.8 416.4,256.8 420.8,260.0 425.2,258.9 429.6,254.6 430.7,246.9 434.0,243.6 441.7,239.2 446.0,240.3 449.3,245.8 454.8,263.3 460.3,279.8 461.1,285.9 459.5,294.7 464.3,297.1 465.1,302.7 461.1,304.3 453.9,304.7 449.9,305.9 447.5,309.8 445.9,316.2 442.8,324.2 440.4,330.6 450.7,333.8 455.5,336.9 461.9,336.9 468.3,338.5 471.4,337.7 477.8,335.3 493.8,327.4 501.7,321.0 513.7,311.6"/>
<polyline points="311.9,215.7 315.9,203.8 321.9,193.8 324.9,184.9 326.9,182.9 325.9,189.8 332.8,185.9 336.8,182.9 334.8,192.8 342.8,181.9 347.8,176.9 351.6,176.4 361.7,172.0 366.1,170.6 373.3,171.3 380.6,174.9 383.5,177.1 385.0,170.6 398.0,169.1 408.1,168.4 418.3,169.1"/>
<polyline points="401.0,159.0 409.6,164.8 418.3,169.1 434.2,172.0 456.0,177.8 463.2,173.5 466.1,166.2 463.2,163.3 456.0,161.9 444.4,164.8 434.2,166.2 427.0,168.4 418.3,167.7 411.0,164.1 403.8,159.0"/>
<polyline points="466.9,188.8 472.4,187.7 477.2,187.0 477.9,193.2 482.2,197.5 482.9,208.5 477.9,219.5 474.6,230.4 473.5,233.7 475.7,245.8 477.9,256.8 475.7,265.5 468.0,273.2 462.5,278.7 461.1,285.9"/>
<polyline points="477.2,187.0 481.1,195.4 487.7,197.5 491.0,203.0 496.5,201.9 503.1,206.3 513.7,209.6"/>
<polyline points="327.8,344.5 328.2,350.5 329.6,366.9 332.3,394.2 335.1,416.1 335.6,422.2"/>
<polyline points="349.2,341.5 376.3,338.2 403.5,334.6 439.0,330.0 440.4,330.6"/>
<polyline points="403.5,334.6 406.3,353.2 409.0,375.0 411.7,399.5 414.4,422.2"/>
<polyline points="447.5,316.2 453.9,317.8 460.3,316.2 465.1,318.6 466.7,312.2 473.0,307.5 479.4,303.5 481.0,301.9 485.0,294.7 490.6,288.3 498.5,284.3 506.5,283.5 513.7,284.7"/>
<polyline points="363.2,184.4 364.6,185.0 364.6,190.9 363.0,190.5 363.2,184.4"/>
</g>
<g clip-path="url(#cr)" fill="none" stroke="#000" stroke-width="0.85" stroke-linejoin="round">
<polyline points="629.0,76.4 659.5,76.9 710.6,76.2 710.6,61.9 717.8,62.6 719.6,73.0 721.7,83.9 726.1,87.3 732.6,88.0 736.4,89.8 742.9,90.4 745.5,93.7 750.7,92.4 755.9,89.8 763.6,90.6 770.1,92.4 777.9,95.8 780.0,101.9 783.0,104.2 785.0,99.5 790.0,99.9 792.0,103.9 797.0,105.4 800.0,108.8 802.9,109.8 810.9,106.8 818.9,101.9 822.8,106.8 830.8,105.8 838.8,105.4 843.8,108.8 848.7,108.2 854.7,105.4 857.6,102.8"/>
<polyline points="659.5,76.9 661.4,88.5 662.7,91.1 661.4,96.3 661.4,111.8 665.2,124.8 667.8,132.6 669.1,142.9 669.9,159.0 670.9,169.4 674.3,178.4 676.1,187.5 676.4,196.5 673.0,203.0 669.1,208.2 671.7,214.7 679.5,219.8 680.0,236.7 680.3,262.6 679.5,285.0 679.5,291.0"/>
<polyline points="629.0,196.5 676.4,197.3"/>
<polyline points="679.5,291.0 676.8,291.8 679.5,297.3 678.1,309.6 676.0,321.9 680.9,331.4 683.6,342.3 689.1,351.9 689.6,364.2 694.5,375.1 695.9,394.2 701.4,405.1 706.8,416.1 709.5,422.2"/>
<polyline points="629.0,315.0 637.2,319.1 648.1,317.8 656.3,316.4 667.2,320.0 676.0,321.9"/>
<polyline points="680.4,291.3 710.9,290.4 751.9,289.1 789.0,287.7 820.7,286.0"/>
<polyline points="700.0,403.5 738.2,401.9 789.0,399.7 805.4,398.3 814.9,398.3 819.0,402.4 823.1,406.5"/>
<polyline points="789.0,158.0 787.4,159.0 787.4,174.5 786.9,189.5 777.9,195.2 772.7,201.7 772.7,206.9 776.6,210.8 778.6,217.3 776.6,223.7 776.6,236.7 779.2,243.1 789.0,247.0 789.0,248.3 799.4,252.2 804.5,261.3 814.9,267.7 820.0,275.5 820.7,286.0 823.1,289.1 825.9,294.6 823.1,301.4 825.9,309.6 830.0,315.0 838.1,319.1 839.5,323.2 843.6,328.7 849.1,334.1 853.2,339.6 854.5,345.1 850.4,351.9 846.3,357.4 840.9,364.2 832.7,365.5 831.3,369.6 834.1,380.6 832.7,388.8 828.6,394.2 824.5,398.3 823.1,405.1 821.8,413.3 822.3,422.2"/>
<polyline points="839.5,323.2 870.9,320.5 916.3,317.2"/>
<polyline points="789.0,158.0 800.0,150.9 807.2,143.7 814.3,134.1 823.9,125.8 833.5,119.8 843.0,115.0 852.4,106.7 855.7,104.8 857.6,98.9 859.0,90.9 860.5,88.6 870.2,84.1 867.2,94.6 872.4,87.1 876.2,74.4 879.9,72.2 880.6,77.4 876.9,88.6 882.1,81.2 885.1,81.9 885.9,75.9 882.1,72.2 881.4,66.2 886.6,65.5 894.8,69.2 899.3,69.9 907.5,72.9 914.3,69.9 921.7,69.9 927.7,69.9 932.2,74.4 936.7,84.9 945.7,98.3 954.6,99.8 969.6,96.9 971.1,99.8 968.8,110.3 977.1,117.8 981.4,121.0 978.8,127.4 977.7,130.0 979.1,133.6 986.4,135.8 987.8,138.7 985.7,141.6 987.8,144.5 986.4,148.8 987.8,152.5 990.0,151.0 994.4,148.8 998.0,149.6 998.7,155.4 1001.0,157.0 1008.0,156.8 1027.0,158.3 1041.5,156.1 1060.3,156.1 1066.1,158.3 1085.0,157.5 1090.8,162.6 1098.0,170.6 1106.7,176.4 1112.5,185.1 1113.7,190.0"/>
<polyline points="862.0,113.3 861.2,110.3 866.4,105.8 873.9,101.3 879.1,98.3 879.9,99.8 875.4,105.8 869.4,110.3 863.5,114.5 862.0,113.3"/>
<polyline points="789.0,158.0 789.0,161.6 800.0,162.2 807.2,159.2 814.3,155.0 821.5,151.5 824.5,153.2 823.3,159.2 821.5,165.2 828.7,165.2 834.7,164.6 841.8,161.0 850.2,153.8 858.6,152.6 865.7,146.7 871.7,143.1 877.7,136.5 883.7,130.5 890.8,125.8 899.2,124.6 901.0,127.0 895.6,130.0 890.8,136.5 886.1,144.9 884.3,153.2 890.8,146.1 899.2,146.7 905.2,149.7 909.9,154.0 913.9,159.0 921.9,159.0 929.8,161.0 937.8,156.0 940.0,153.9 945.8,150.3 954.5,148.1 961.7,147.4 967.5,143.8 974.1,142.8 974.1,153.2 977.7,153.9 983.5,153.2 986.4,154.6 990.0,151.0"/>
<polyline points="834.7,166.4 840.6,170.0 843.4,174.5 856.3,177.1 874.4,181.0 880.9,183.6 890.0,183.9 898.0,185.9 903.9,191.8 905.9,197.8 906.9,205.8 909.9,209.8 911.9,215.7"/>
<polyline points="911.9,215.7 908.9,221.7 905.9,227.7 903.9,233.7 905.9,238.6 909.9,233.7 913.9,226.7 918.9,220.7 920.9,214.7 924.9,211.8 927.0,209.5 926.9,213.7 922.9,218.7 919.9,224.7 917.9,229.7 920.9,237.6 918.5,245.0 916.3,253.8 914.1,262.5 913.0,271.3 910.8,280.1 909.7,288.9 911.9,299.8 914.1,308.6 916.3,317.4 917.4,328.3 920.7,337.1 927.3,343.7 936.0,345.9 944.8,343.7 949.2,341.5 951.4,337.1 954.7,328.3 956.9,321.8 959.1,310.8 960.2,302.0 956.9,291.1 953.6,283.4 949.2,275.7 947.0,266.9 949.2,260.4 945.9,253.8 947.8,250.0 949.8,245.6 951.8,235.7 952.7,225.7 954.7,218.7 960.7,212.7 964.7,206.8 968.7,219.7 971.7,213.7 970.7,205.8 973.7,199.8 979.6,196.8 976.7,191.8 978.6,183.9 983.6,179.9 985.0,180.0 992.2,183.6 998.0,185.1 1005.2,188.0 1013.9,190.9 1021.9,195.4 1024.1,201.9 1027.4,203.0 1023.0,205.2 1027.4,212.9 1028.5,223.9 1028.5,231.5 1024.1,238.1 1020.8,244.7 1016.4,245.8 1016.4,256.8 1020.8,260.0 1025.2,258.9 1029.6,254.6 1030.7,246.9 1034.0,243.6 1041.7,239.2 1046.0,240.3 1049.3,245.8 1054.8,263.3 1060.3,279.8 1061.1,285.9 1059.5,294.7 1064.3,297.1 1065.1,302.7 1061.1,304.3 1053.9,304.7 1049.9,305.9 1047.5,309.8 1045.9,316.2 1042.8,324.2 1040.4,330.6 1050.7,333.8 1055.5,336.9 1061.9,336.9 1068.3,338.5 1071.4,337.7 1077.8,335.3 1093.8,327.4 1101.7,321.0 1113.7,311.6"/>
<polyline points="911.9,215.7 915.9,203.8 921.9,193.8 924.9,184.9 926.9,182.9 925.9,189.8 932.8,185.9 936.8,182.9 934.8,192.8 942.8,181.9 947.8,176.9 951.6,176.4 961.7,172.0 966.1,170.6 973.3,171.3 980.6,174.9 983.5,177.1 985.0,170.6 998.0,169.1 1008.1,168.4 1018.3,169.1"/>
<polyline points="1001.0,159.0 1009.6,164.8 1018.3,169.1 1034.2,172.0 1056.0,177.8 1063.2,173.5 1066.1,166.2 1063.2,163.3 1056.0,161.9 1044.4,164.8 1034.2,166.2 1027.0,168.4 1018.3,167.7 1011.0,164.1 1003.8,159.0"/>
<polyline points="1066.9,188.8 1072.4,187.7 1077.2,187.0 1077.9,193.2 1082.2,197.5 1082.9,208.5 1077.9,219.5 1074.6,230.4 1073.5,233.7 1075.7,245.8 1077.9,256.8 1075.7,265.5 1068.0,273.2 1062.5,278.7 1061.1,285.9"/>
<polyline points="1077.2,187.0 1081.1,195.4 1087.7,197.5 1091.0,203.0 1096.5,201.9 1103.1,206.3 1113.7,209.6"/>
<polyline points="927.8,344.5 928.2,350.5 929.6,366.9 932.3,394.2 935.1,416.1 935.6,422.2"/>
<polyline points="949.2,341.5 976.3,338.2 1003.5,334.6 1039.0,330.0 1040.4,330.6"/>
<polyline points="1003.5,334.6 1006.3,353.2 1009.0,375.0 1011.7,399.5 1014.4,422.2"/>
<polyline points="1047.5,316.2 1053.9,317.8 1060.3,316.2 1065.1,318.6 1066.7,312.2 1073.0,307.5 1079.4,303.5 1081.0,301.9 1085.0,294.7 1090.6,288.3 1098.5,284.3 1106.5,283.5 1113.7,284.7"/>
<polyline points="963.2,184.4 964.6,185.0 964.6,190.9 963.0,190.5 963.2,184.4"/>
</g>
<g clip-path="url(#cl)" stroke="#111" stroke-width="1">
<circle cx="68.4" cy="157.9" r="4.1" fill="#58b0e0"/>
<circle cx="94.7" cy="160.9" r="4.1" fill="#3a98d0"/>
<circle cx="180.4" cy="163.3" r="4.1" fill="#4aa8e0"/>
<circle cx="191.1" cy="158.7" r="4.1" fill="#4aa8e0"/>
<circle cx="228.3" cy="165.1" r="4.1" fill="#1a8a90"/>
<circle cx="256.1" cy="184.2" r="4.1" fill="#108a8a"/>
<circle cx="139.1" cy="177.7" r="4.1" fill="#3a98d0"/>
<circle cx="139.9" cy="210.5" r="4.1" fill="#2080c0"/>
<circle cx="164.4" cy="215.3" r="4.1" fill="#2080b0"/>
<circle cx="152.4" cy="223.4" r="4.1" fill="#2080c0"/>
<circle cx="176.0" cy="224.3" r="4.1" fill="#30a070"/>
<circle cx="157.5" cy="239.2" r="4.1" fill="#2080c0"/>
<circle cx="233.7" cy="219.2" r="4.1" fill="#1a80b8"/>
<circle cx="213.4" cy="237.4" r="4.1" fill="#1a80b8"/>
<circle cx="256.7" cy="236.5" r="4.1" fill="#1a80b8"/>
<circle cx="61.3" cy="237.1" r="4.1" fill="#2080c0"/>
<circle cx="70.2" cy="258.3" r="4.1" fill="#2080c0"/>
<circle cx="96.2" cy="254.5" r="4.1" fill="#2080c0"/>
<circle cx="187.4" cy="269.1" r="4.1" fill="#1a80b8"/>
<circle cx="220.3" cy="275.4" r="4.1" fill="#1a80c0"/>
<circle cx="70.7" cy="287.3" r="4.1" fill="#20a078"/>
<circle cx="263.4" cy="285.6" r="4.1" fill="#40a0d8"/>
<circle cx="350.6" cy="164.8" r="4.1" fill="#2080c0"/>
<circle cx="328.4" cy="208.7" r="4.1" fill="#50b070"/>
<circle cx="306.9" cy="238.6" r="4.1" fill="#2a88d0"/>
<circle cx="318.3" cy="241.0" r="4.1" fill="#40a870"/>
<circle cx="295.0" cy="249.1" r="4.1" fill="#108a90"/>
<circle cx="316.2" cy="253.0" r="4.1" fill="#60b860"/>
<circle cx="354.1" cy="229.7" r="4.1" fill="#40a870"/>
<circle cx="352.1" cy="242.5" r="4.1" fill="#30a070"/>
<circle cx="366.1" cy="245.2" r="4.1" fill="#20a070"/>
<circle cx="387.9" cy="237.4" r="4.1" fill="#10908a"/>
<circle cx="352.1" cy="256.0" r="4.1" fill="#30a070"/>
<circle cx="312.6" cy="266.1" r="4.1" fill="#20a070"/>
<circle cx="295.9" cy="272.4" r="4.1" fill="#1a80b8"/>
<circle cx="315.3" cy="271.5" r="4.1" fill="#f0d030"/>
<circle cx="292.0" cy="282.0" r="4.1" fill="#108a8a"/>
<circle cx="313.0" cy="278.5" r="4.1" fill="#60b060"/>
<circle cx="311.4" cy="285.3" r="4.1" fill="#40a870"/>
<circle cx="279.3" cy="288.9" r="4.1" fill="#10908a"/>
<circle cx="273.1" cy="298.0" r="4.1" fill="#10908a"/>
<circle cx="354.8" cy="282.5" r="4.1" fill="#1a80b0"/>
<circle cx="379.3" cy="283.1" r="4.1" fill="#1a80b8"/>
<circle cx="450.4" cy="246.7" r="4.1" fill="#2080c0"/>
<circle cx="432.4" cy="258.1" r="4.1" fill="#30a070"/>
<circle cx="432.3" cy="276.1" r="4.1" fill="#30a070"/>
<circle cx="427.3" cy="281.3" r="4.1" fill="#108a8a"/>
<circle cx="460.6" cy="279.8" r="4.1" fill="#40a0d8"/>
<circle cx="452.6" cy="289.5" r="4.1" fill="#2080c0"/>
<circle cx="127.5" cy="305.2" r="4.1" fill="#1a80b0"/>
<circle cx="41.2" cy="317.4" r="4.1" fill="#10908a"/>
<circle cx="67.5" cy="318.8" r="4.1" fill="#20a070"/>
<circle cx="187.8" cy="317.4" r="4.1" fill="#1a80b8"/>
<circle cx="215.8" cy="333.8" r="4.1" fill="#1a80c0"/>
<circle cx="212.1" cy="346.2" r="4.1" fill="#20a070"/>
<circle cx="94.7" cy="355.9" r="4.1" fill="#70c060"/>
<circle cx="156.7" cy="353.3" r="4.1" fill="#1a80c0"/>
<circle cx="158.4" cy="363.2" r="4.1" fill="#1a80c0"/>
<circle cx="254.3" cy="347.1" r="4.1" fill="#1a80c0"/>
<circle cx="245.0" cy="354.4" r="4.1" fill="#1a80c8"/>
<circle cx="244.7" cy="361.5" r="4.1" fill="#1a80c8"/>
<circle cx="94.4" cy="375.4" r="4.1" fill="#108a8a"/>
<circle cx="93.5" cy="379.1" r="4.1" fill="#20a078"/>
<circle cx="119.9" cy="388.7" r="4.1" fill="#1a80c0"/>
<circle cx="205.8" cy="396.0" r="4.1" fill="#1a80b8"/>
<circle cx="257.7" cy="330.7" r="4.1" fill="#2a90d0"/>
<circle cx="312.3" cy="298.0" r="4.1" fill="#1a8a90"/>
<circle cx="312.5" cy="295.0" r="4.1" fill="#30a070"/>
<circle cx="312.8" cy="291.1" r="4.1" fill="#40a870"/>
<circle cx="304.4" cy="298.1" r="4.1" fill="#109080"/>
<circle cx="287.7" cy="300.2" r="4.1" fill="#10908a"/>
<circle cx="316.5" cy="305.8" r="4.1" fill="#40a870"/>
<circle cx="298.1" cy="312.8" r="4.1" fill="#108a90"/>
<circle cx="282.8" cy="319.0" r="4.1" fill="#20a080"/>
<circle cx="284.2" cy="326.7" r="4.1" fill="#108a8a"/>
<circle cx="314.8" cy="313.4" r="4.1" fill="#40a870"/>
<circle cx="317.6" cy="317.4" r="4.1" fill="#40a870"/>
<circle cx="306.5" cy="329.0" r="4.1" fill="#108a8a"/>
<circle cx="306.5" cy="335.9" r="4.1" fill="#108a8a"/>
<circle cx="317.4" cy="337.9" r="4.1" fill="#1a78c0"/>
<circle cx="318.4" cy="331.0" r="4.1" fill="#1a8a98"/>
<circle cx="322.9" cy="333.4" r="4.1" fill="#1a8a98"/>
<circle cx="312.9" cy="343.9" r="4.1" fill="#108a8a"/>
<circle cx="321.4" cy="341.4" r="4.1" fill="#1a8a98"/>
<circle cx="323.9" cy="344.9" r="4.1" fill="#1a8a98"/>
<circle cx="327.9" cy="344.9" r="4.1" fill="#1a8a98"/>
<circle cx="329.4" cy="349.4" r="4.1" fill="#1a80b0"/>
<circle cx="315.4" cy="349.9" r="4.1" fill="#1a80b8"/>
<circle cx="337.4" cy="348.9" r="4.1" fill="#108a8a"/>
<circle cx="342.3" cy="352.9" r="4.1" fill="#108a8a"/>
<circle cx="345.3" cy="343.9" r="4.1" fill="#108a8a"/>
<circle cx="351.8" cy="346.9" r="4.1" fill="#1a80b8"/>
<circle cx="361.3" cy="348.9" r="4.1" fill="#1a80c0"/>
<circle cx="359.8" cy="324.0" r="4.1" fill="#108a8a"/>
<circle cx="369.7" cy="333.9" r="4.1" fill="#108a8a"/>
<circle cx="366.7" cy="340.4" r="4.1" fill="#108a8a"/>
<circle cx="363.7" cy="343.4" r="4.1" fill="#108a8a"/>
<circle cx="375.7" cy="340.4" r="4.1" fill="#108a8a"/>
<circle cx="379.9" cy="317.8" r="4.1" fill="#1a80b8"/>
<circle cx="311.5" cy="366.8" r="4.1" fill="#1a80c0"/>
<circle cx="373.6" cy="290.7" r="4.1" fill="#1a8aa0"/>
<circle cx="368.8" cy="295.5" r="4.1" fill="#108a8a"/>
<circle cx="361.6" cy="301.1" r="4.1" fill="#108a8a"/>
<circle cx="404.6" cy="296.3" r="4.1" fill="#108a8a"/>
<circle cx="408.6" cy="293.9" r="4.1" fill="#108a8a"/>
<circle cx="448.5" cy="299.0" r="4.1" fill="#1a80b8"/>
<circle cx="443.7" cy="301.9" r="4.1" fill="#1a80b8"/>
<circle cx="433.3" cy="311.8" r="4.1" fill="#108a8a"/>
<circle cx="444.5" cy="311.1" r="4.1" fill="#1a80b8"/>
<circle cx="425.4" cy="322.6" r="4.1" fill="#108a8a"/>
<circle cx="445.3" cy="332.2" r="4.1" fill="#1a80b8"/>
<circle cx="438.1" cy="334.6" r="4.1" fill="#1a80b8"/>
<circle cx="434.1" cy="341.4" r="4.1" fill="#1a80b8"/>
<circle cx="438.1" cy="345.2" r="4.1" fill="#1a80b8"/>
<circle cx="479.6" cy="336.6" r="4.1" fill="#1a80b8"/>
<circle cx="486.7" cy="337.8" r="4.1" fill="#1a80b8"/>
<circle cx="490.7" cy="332.2" r="4.1" fill="#1a80b8"/>
<circle cx="493.1" cy="328.2" r="4.1" fill="#1a80b8"/>
<circle cx="400.2" cy="356.5" r="4.1" fill="#108a8a"/>
<circle cx="383.8" cy="374.4" r="4.1" fill="#108a8a"/>
<circle cx="429.0" cy="370.3" r="4.1" fill="#1a80b8"/>
<circle cx="458.9" cy="381.5" r="4.1" fill="#1a80b8"/>
<circle cx="470.1" cy="382.6" r="4.1" fill="#1a80b8"/>
<circle cx="464.3" cy="391.0" r="4.1" fill="#1a80b8"/>
<circle cx="468.1" cy="390.2" r="4.1" fill="#1a80b8"/>
<circle cx="469.7" cy="395.6" r="4.1" fill="#1a80b8"/>
<circle cx="361.5" cy="388.7" r="4.1" fill="#1a80c8"/>
<circle cx="373.0" cy="389.2" r="4.1" fill="#108a8a"/>
<circle cx="398.0" cy="392.9" r="4.1" fill="#108a8a"/>
<circle cx="387.3" cy="401.0" r="4.1" fill="#108a8a"/>
<circle cx="378.1" cy="404.0" r="4.1" fill="#108a8a"/>
<circle cx="366.9" cy="408.2" r="4.1" fill="#20a078"/>
<circle cx="376.9" cy="412.5" r="4.1" fill="#108a8a"/>
<circle cx="367.7" cy="417.1" r="4.1" fill="#108a8a"/>
<circle cx="373.8" cy="415.6" r="4.1" fill="#108a8a"/>
<circle cx="383.0" cy="420.2" r="4.1" fill="#108a8a"/>
<circle cx="415.2" cy="408.2" r="4.1" fill="#1a80b8"/>
<circle cx="430.9" cy="396.4" r="4.1" fill="#1a80b8"/>
<circle cx="440.1" cy="397.9" r="4.1" fill="#1a80b8"/>
<circle cx="450.5" cy="405.1" r="4.1" fill="#1a80b8"/>
<circle cx="435.2" cy="404.8" r="4.1" fill="#1a80b8"/>
<circle cx="432.1" cy="407.9" r="4.1" fill="#1a80b8"/>
<circle cx="438.2" cy="411.7" r="4.1" fill="#1a80b8"/>
<circle cx="426.0" cy="418.6" r="4.1" fill="#1a80b8"/>
<circle cx="432.1" cy="420.9" r="4.1" fill="#1a80b8"/>
<circle cx="443.6" cy="419.4" r="4.1" fill="#1a80b8"/>
<circle cx="508.0" cy="414.0" r="4.1" fill="#40a0d8"/>
<circle cx="273.6" cy="388.7" r="4.1" fill="#108a8a"/>
<circle cx="274.1" cy="391.6" r="4.1" fill="#108a8a"/>
<circle cx="291.3" cy="396.2" r="4.1" fill="#1a80b8"/>
<circle cx="315.2" cy="404.5" r="4.1" fill="#1a80c0"/>
<circle cx="310.5" cy="412.8" r="4.1" fill="#2a88d0"/>
<circle cx="295.2" cy="420.3" r="4.1" fill="#2a88d0"/>
<circle cx="275.0" cy="423.0" r="4.1" fill="#e0e0e0"/>
<circle cx="226.6" cy="426.0" r="4.1" fill="#2a88d0"/>
<circle cx="168.8" cy="97.6" r="4.1" fill="#2080c0"/>
<circle cx="203.8" cy="113.9" r="4.1" fill="#2080c0"/>
</g>
<circle cx="472.3" cy="408.2" r="2.3" fill="#000"/>
<text x="483.5" y="412.5" font-size="12">AQS</text>
<g clip-path="url(#cr)" stroke="#111" stroke-width="1">
<circle cx="668.4" cy="157.9" r="4.1" fill="#f0d840"/>
<circle cx="694.7" cy="160.9" r="4.1" fill="#e0e0e0"/>
<circle cx="780.4" cy="163.3" r="4.1" fill="#f0d840"/>
<circle cx="791.1" cy="158.7" r="4.1" fill="#f0d840"/>
<circle cx="828.3" cy="165.1" r="4.1" fill="#f0d840"/>
<circle cx="856.1" cy="184.2" r="4.1" fill="#e8dc78"/>
<circle cx="739.1" cy="177.7" r="4.1" fill="#ecdc70"/>
<circle cx="739.9" cy="210.5" r="4.1" fill="#f0d850"/>
<circle cx="764.4" cy="215.3" r="4.1" fill="#e08010"/>
<circle cx="752.4" cy="223.4" r="4.1" fill="#f0c830"/>
<circle cx="776.0" cy="224.3" r="4.1" fill="#e0e0e0"/>
<circle cx="757.5" cy="239.2" r="4.1" fill="#f0d040"/>
<circle cx="833.7" cy="219.2" r="4.1" fill="#f0c030"/>
<circle cx="813.4" cy="237.4" r="4.1" fill="#f0b828"/>
<circle cx="856.7" cy="236.5" r="4.1" fill="#eca020"/>
<circle cx="661.3" cy="237.1" r="4.1" fill="#e8e0b8"/>
<circle cx="670.2" cy="258.3" r="4.1" fill="#e8e0a0"/>
<circle cx="696.2" cy="254.5" r="4.1" fill="#f0d040"/>
<circle cx="787.4" cy="269.1" r="4.1" fill="#f0d048"/>
<circle cx="820.3" cy="275.4" r="4.1" fill="#f0b020"/>
<circle cx="670.7" cy="287.3" r="4.1" fill="#a0d098"/>
<circle cx="863.4" cy="285.6" r="4.1" fill="#e07010"/>
<circle cx="950.6" cy="164.8" r="4.1" fill="#d86838"/>
<circle cx="928.4" cy="208.7" r="4.1" fill="#e4e4e4"/>
<circle cx="906.9" cy="238.6" r="4.1" fill="#e08010"/>
<circle cx="918.3" cy="241.0" r="4.1" fill="#a8d8a0"/>
<circle cx="895.0" cy="249.1" r="4.1" fill="#e8e0a0"/>
<circle cx="916.2" cy="253.0" r="4.1" fill="#40b080"/>
<circle cx="954.1" cy="229.7" r="4.1" fill="#eca020"/>
<circle cx="952.1" cy="242.5" r="4.1" fill="#f0c030"/>
<circle cx="966.1" cy="245.2" r="4.1" fill="#a8d8a0"/>
<circle cx="987.9" cy="237.4" r="4.1" fill="#e4e4e4"/>
<circle cx="952.1" cy="256.0" r="4.1" fill="#f0d848"/>
<circle cx="912.6" cy="266.1" r="4.1" fill="#e8dc80"/>
<circle cx="895.9" cy="272.4" r="4.1" fill="#f0c030"/>
<circle cx="915.3" cy="271.5" r="4.1" fill="#10a080"/>
<circle cx="892.0" cy="282.0" r="4.1" fill="#e8e0b0"/>
<circle cx="913.0" cy="278.5" r="4.1" fill="#e0e0e0"/>
<circle cx="911.4" cy="285.3" r="4.1" fill="#ecdc88"/>
<circle cx="879.3" cy="288.9" r="4.1" fill="#e8e0b0"/>
<circle cx="873.1" cy="298.0" r="4.1" fill="#ece8c8"/>
<circle cx="954.8" cy="282.5" r="4.1" fill="#ff1010"/>
<circle cx="979.3" cy="283.1" r="4.1" fill="#eca020"/>
<circle cx="1050.4" cy="246.7" r="4.1" fill="#eca020"/>
<circle cx="1032.4" cy="258.1" r="4.1" fill="#e8e0b0"/>
<circle cx="1032.3" cy="276.1" r="4.1" fill="#f0c030"/>
<circle cx="1027.3" cy="281.3" r="4.1" fill="#a8d8a0"/>
<circle cx="1060.6" cy="279.8" r="4.1" fill="#f0c838"/>
<circle cx="1052.6" cy="289.5" r="4.1" fill="#d86838"/>
<circle cx="727.5" cy="305.2" r="4.1" fill="#f0dc50"/>
<circle cx="641.2" cy="317.4" r="4.1" fill="#a0d098"/>
<circle cx="667.5" cy="318.8" r="4.1" fill="#a0d098"/>
<circle cx="787.8" cy="317.4" r="4.1" fill="#f0b828"/>
<circle cx="815.8" cy="333.8" r="4.1" fill="#f0b020"/>
<circle cx="812.1" cy="346.2" r="4.1" fill="#d0e8d0"/>
<circle cx="694.7" cy="355.9" r="4.1" fill="#20a070"/>
<circle cx="756.7" cy="353.3" r="4.1" fill="#e08010"/>
<circle cx="758.4" cy="363.2" r="4.1" fill="#f0b020"/>
<circle cx="854.3" cy="347.1" r="4.1" fill="#f0b020"/>
<circle cx="845.0" cy="354.4" r="4.1" fill="#f0b820"/>
<circle cx="844.7" cy="361.5" r="4.1" fill="#f0b820"/>
<circle cx="694.4" cy="375.4" r="4.1" fill="#e0e0e0"/>
<circle cx="693.5" cy="379.1" r="4.1" fill="#b0d8b0"/>
<circle cx="719.9" cy="388.7" r="4.1" fill="#e08010"/>
<circle cx="805.8" cy="396.0" r="4.1" fill="#ece080"/>
<circle cx="857.7" cy="330.7" r="4.1" fill="#e08030"/>
<circle cx="912.3" cy="298.0" r="4.1" fill="#e8a020"/>
<circle cx="912.5" cy="295.0" r="4.1" fill="#e8e0b0"/>
<circle cx="912.8" cy="291.1" r="4.1" fill="#e4e4e4"/>
<circle cx="904.4" cy="298.1" r="4.1" fill="#f0dc50"/>
<circle cx="887.7" cy="300.2" r="4.1" fill="#e4e4e4"/>
<circle cx="916.5" cy="305.8" r="4.1" fill="#e4e4e4"/>
<circle cx="898.1" cy="312.8" r="4.1" fill="#eca820"/>
<circle cx="882.8" cy="319.0" r="4.1" fill="#e4e4e4"/>
<circle cx="884.2" cy="326.7" r="4.1" fill="#f0dc48"/>
<circle cx="914.8" cy="313.4" r="4.1" fill="#ece0b0"/>
<circle cx="917.6" cy="317.4" r="4.1" fill="#ece0b8"/>
<circle cx="906.5" cy="329.0" r="4.1" fill="#f0dc48"/>
<circle cx="906.5" cy="335.9" r="4.1" fill="#f0d850"/>
<circle cx="917.4" cy="337.9" r="4.1" fill="#d880a0"/>
<circle cx="918.4" cy="331.0" r="4.1" fill="#f0d038"/>
<circle cx="922.9" cy="333.4" r="4.1" fill="#f0c030"/>
<circle cx="912.9" cy="343.9" r="4.1" fill="#f0d840"/>
<circle cx="921.4" cy="341.4" r="4.1" fill="#eab020"/>
<circle cx="923.9" cy="344.9" r="4.1" fill="#eab020"/>
<circle cx="927.9" cy="344.9" r="4.1" fill="#eab020"/>
<circle cx="929.4" cy="349.4" r="4.1" fill="#e8a018"/>
<circle cx="915.4" cy="349.9" r="4.1" fill="#e89818"/>
<circle cx="937.4" cy="348.9" r="4.1" fill="#f0c030"/>
<circle cx="942.3" cy="352.9" r="4.1" fill="#ece0a0"/>
<circle cx="945.3" cy="343.9" r="4.1" fill="#eab828"/>
<circle cx="951.8" cy="346.9" r="4.1" fill="#e88810"/>
<circle cx="961.3" cy="348.9" r="4.1" fill="#e07010"/>
<circle cx="959.8" cy="324.0" r="4.1" fill="#eab828"/>
<circle cx="969.7" cy="333.9" r="4.1" fill="#f0dc58"/>
<circle cx="966.7" cy="340.4" r="4.1" fill="#f0c030"/>
<circle cx="963.7" cy="343.4" r="4.1" fill="#f0d840"/>
<circle cx="975.7" cy="340.4" r="4.1" fill="#ece0a8"/>
<circle cx="979.9" cy="317.8" r="4.1" fill="#ece088"/>
<circle cx="911.5" cy="366.8" r="4.1" fill="#eab020"/>
<circle cx="973.6" cy="290.7" r="4.1" fill="#f0c030"/>
<circle cx="968.8" cy="295.5" r="4.1" fill="#f0d850"/>
<circle cx="961.6" cy="301.1" r="4.1" fill="#ece080"/>
<circle cx="1004.6" cy="296.3" r="4.1" fill="#ece0a0"/>
<circle cx="1008.6" cy="293.9" r="4.1" fill="#ece090"/>
<circle cx="1048.5" cy="299.0" r="4.1" fill="#f0b828"/>
<circle cx="1043.7" cy="301.9" r="4.1" fill="#e89818"/>
<circle cx="1033.3" cy="311.8" r="4.1" fill="#ece0a8"/>
<circle cx="1044.5" cy="311.1" r="4.1" fill="#ece090"/>
<circle cx="1025.4" cy="322.6" r="4.1" fill="#e8e0c0"/>
<circle cx="1045.3" cy="332.2" r="4.1" fill="#e4e4e4"/>
<circle cx="1038.1" cy="334.6" r="4.1" fill="#ece0a8"/>
<circle cx="1034.1" cy="341.4" r="4.1" fill="#d0e4d0"/>
<circle cx="1038.1" cy="345.2" r="4.1" fill="#ece090"/>
<circle cx="1079.6" cy="336.6" r="4.1" fill="#d86838"/>
<circle cx="1086.7" cy="337.8" r="4.1" fill="#e07810"/>
<circle cx="1090.7" cy="332.2" r="4.1" fill="#f0dc40"/>
<circle cx="1093.1" cy="328.2" r="4.1" fill="#ece080"/>
<circle cx="1000.2" cy="356.5" r="4.1" fill="#e8e0a8"/>
<circle cx="983.8" cy="374.4" r="4.1" fill="#e8e0a8"/>
<circle cx="1029.0" cy="370.3" r="4.1" fill="#f0dc48"/>
<circle cx="1058.9" cy="381.5" r="4.1" fill="#eab020"/>
<circle cx="1070.1" cy="382.6" r="4.1" fill="#f0c030"/>
<circle cx="1064.3" cy="391.0" r="4.1" fill="#eab828"/>
<circle cx="1068.1" cy="390.2" r="4.1" fill="#eab828"/>
<circle cx="1069.7" cy="395.6" r="4.1" fill="#eca020"/>
<circle cx="961.5" cy="388.7" r="4.1" fill="#d86838"/>
<circle cx="973.0" cy="389.2" r="4.1" fill="#f0c838"/>
<circle cx="998.0" cy="392.9" r="4.1" fill="#f0d850"/>
<circle cx="987.3" cy="401.0" r="4.1" fill="#f0d850"/>
<circle cx="978.1" cy="404.0" r="4.1" fill="#d87030"/>
<circle cx="966.9" cy="408.2" r="4.1" fill="#f0d040"/>
<circle cx="976.9" cy="412.5" r="4.1" fill="#f0b828"/>
<circle cx="967.7" cy="417.1" r="4.1" fill="#f0b020"/>
<circle cx="973.8" cy="415.6" r="4.1" fill="#f0b020"/>
<circle cx="983.0" cy="420.2" r="4.1" fill="#f0b020"/>
<circle cx="1015.2" cy="408.2" r="4.1" fill="#e06010"/>
<circle cx="1030.9" cy="396.4" r="4.1" fill="#f0d840"/>
<circle cx="1040.1" cy="397.9" r="4.1" fill="#ece080"/>
<circle cx="1050.5" cy="405.1" r="4.1" fill="#f0dc50"/>
<circle cx="1035.2" cy="404.8" r="4.1" fill="#e89010"/>
<circle cx="1032.1" cy="407.9" r="4.1" fill="#f0c030"/>
<circle cx="1038.2" cy="411.7" r="4.1" fill="#e88010"/>
<circle cx="1026.0" cy="418.6" r="4.1" fill="#e06810"/>
<circle cx="1032.1" cy="420.9" r="4.1" fill="#f0c030"/>
<circle cx="1043.6" cy="419.4" r="4.1" fill="#e89010"/>
<circle cx="1108.0" cy="414.0" r="4.1" fill="#e06810"/>
<circle cx="873.6" cy="388.7" r="4.1" fill="#e07810"/>
<circle cx="874.1" cy="391.6" r="4.1" fill="#e07810"/>
<circle cx="891.3" cy="396.2" r="4.1" fill="#f0c030"/>
<circle cx="915.2" cy="404.5" r="4.1" fill="#d890a0"/>
<circle cx="910.5" cy="412.8" r="4.1" fill="#e07010"/>
<circle cx="895.2" cy="420.3" r="4.1" fill="#e07010"/>
<circle cx="875.0" cy="423.0" r="4.1" fill="#e0e0e0"/>
<circle cx="826.6" cy="426.0" r="4.1" fill="#e07010"/>
<circle cx="768.8" cy="97.6" r="4.1" fill="#e6dcb0"/>
<circle cx="803.8" cy="113.9" r="4.1" fill="#e0d8b0"/>
</g>
<circle cx="1072.3" cy="408.2" r="2.3" fill="#000"/>
<text x="1083.5" y="412.5" font-size="12">AQS</text>
<g shape-rendering="crispEdges">
<rect x="545.9" y="393.46" width="7.8" height="9.2" fill="#ececec"/>
<rect x="545.9" y="384.39" width="7.8" height="9.2" fill="#dcdcdc"/>
<rect x="545.9" y="375.31" width="7.8" height="9.2" fill="#c8c8c8"/>
<rect x="545.9" y="366.24" width="7.8" height="9.2" fill="#b4b4b4"/>
<rect x="545.9" y="357.16" width="7.8" height="9.2" fill="#a0a0a0"/>
<rect x="545.9" y="348.09" width="7.8" height="9.2" fill="#929292"/>
<rect x="545.9" y="339.01" width="7.8" height="9.2" fill="#8898a8"/>
<rect x="545.9" y="329.93" width="7.8" height="9.2" fill="#7098b8"/>
<rect x="545.9" y="320.86" width="7.8" height="9.2" fill="#60a8d8"/>
<rect x="545.9" y="311.78" width="7.8" height="9.2" fill="#58b0e6"/>
<rect x="545.9" y="302.71" width="7.8" height="9.2" fill="#4aa8e0"/>
<rect x="545.9" y="293.63" width="7.8" height="9.2" fill="#3898d8"/>
<rect x="545.9" y="284.56" width="7.8" height="9.2" fill="#2888c8"/>
<rect x="545.9" y="275.48" width="7.8" height="9.2" fill="#1878c0"/>
<rect x="545.9" y="266.40" width="7.8" height="9.2" fill="#1080a8"/>
<rect x="545.9" y="257.33" width="7.8" height="9.2" fill="#108890"/>
<rect x="545.9" y="248.25" width="7.8" height="9.2" fill="#109080"/>
<rect x="545.9" y="239.18" width="7.8" height="9.2" fill="#28a078"/>
<rect x="545.9" y="230.10" width="7.8" height="9.2" fill="#51b070"/>
<rect x="545.9" y="221.03" width="7.8" height="9.2" fill="#90c060"/>
<rect x="545.9" y="211.95" width="7.8" height="9.2" fill="#c7d850"/>
<rect x="545.9" y="202.87" width="7.8" height="9.2" fill="#e8d838"/>
<rect x="545.9" y="193.80" width="7.8" height="9.2" fill="#ecc828"/>
<rect x="545.9" y="184.72" width="7.8" height="9.2" fill="#ecb820"/>
<rect x="545.9" y="175.65" width="7.8" height="9.2" fill="#eaa818"/>
<rect x="545.9" y="166.57" width="7.8" height="9.2" fill="#e89810"/>
<rect x="545.9" y="157.49" width="7.8" height="9.2" fill="#e48810"/>
<rect x="545.9" y="148.42" width="7.8" height="9.2" fill="#e07810"/>
<rect x="545.9" y="139.34" width="7.8" height="9.2" fill="#dc6c10"/>
<rect x="545.9" y="130.27" width="7.8" height="9.2" fill="#d86418"/>
<rect x="545.9" y="121.19" width="7.8" height="9.2" fill="#d46028"/>
<rect x="545.9" y="112.12" width="7.8" height="9.2" fill="#d06040"/>
<rect x="545.9" y="103.04" width="7.8" height="9.2" fill="#d06859"/>
<rect x="545.9" y="93.96" width="7.8" height="9.2" fill="#d07080"/>
<rect x="545.9" y="84.89" width="7.8" height="9.2" fill="#cc70a0"/>
<rect x="545.9" y="75.81" width="7.8" height="9.2" fill="#dc5078"/>
<rect x="545.9" y="66.74" width="7.8" height="9.2" fill="#e43050"/>
<rect x="545.9" y="57.66" width="7.8" height="9.2" fill="#f01827"/>
<rect x="545.9" y="48.59" width="7.8" height="9.2" fill="#ff0000"/>
</g>
<rect x="545.9" y="48.6" width="7.8" height="353.9" fill="none" stroke="#888" stroke-width="0.6"/>
<line x1="553.7" y1="398.0" x2="560.9" y2="398.0" stroke="#000" stroke-width="1"/>
<text x="568.9" y="402.4" font-size="12">0</text>
<line x1="553.7" y1="369.3" x2="560.9" y2="369.3" stroke="#000" stroke-width="1"/>
<text x="568.9" y="373.7" font-size="12">10</text>
<line x1="553.7" y1="340.5" x2="560.9" y2="340.5" stroke="#000" stroke-width="1"/>
<text x="568.9" y="344.9" font-size="12">20</text>
<line x1="553.7" y1="311.8" x2="560.9" y2="311.8" stroke="#000" stroke-width="1"/>
<text x="568.9" y="316.2" font-size="12">30</text>
<line x1="553.7" y1="283.0" x2="560.9" y2="283.0" stroke="#000" stroke-width="1"/>
<text x="568.9" y="287.4" font-size="12">40</text>
<line x1="553.7" y1="254.3" x2="560.9" y2="254.3" stroke="#000" stroke-width="1"/>
<text x="568.9" y="258.7" font-size="12">50</text>
<line x1="553.7" y1="225.6" x2="560.9" y2="225.6" stroke="#000" stroke-width="1"/>
<text x="568.9" y="230.0" font-size="12">60</text>
<line x1="553.7" y1="196.8" x2="560.9" y2="196.8" stroke="#000" stroke-width="1"/>
<text x="568.9" y="201.2" font-size="12">70</text>
<line x1="553.7" y1="168.1" x2="560.9" y2="168.1" stroke="#000" stroke-width="1"/>
<text x="568.9" y="172.5" font-size="12">80</text>
<line x1="553.7" y1="139.3" x2="560.9" y2="139.3" stroke="#000" stroke-width="1"/>
<text x="568.9" y="143.7" font-size="12">90</text>
<line x1="553.7" y1="110.6" x2="560.9" y2="110.6" stroke="#000" stroke-width="1"/>
<text x="568.9" y="115.0" font-size="12">100</text>
<line x1="553.7" y1="81.9" x2="560.9" y2="81.9" stroke="#000" stroke-width="1"/>
<text x="568.9" y="86.3" font-size="12">110</text>
<line x1="553.7" y1="53.1" x2="560.9" y2="53.1" stroke="#000" stroke-width="1"/>
<text x="568.9" y="57.5" font-size="12">120</text>
<text x="535.8" y="45.3" font-size="12">ppbV</text>
<g shape-rendering="crispEdges">
<rect x="1145.7" y="398.36" width="8" height="5.34" fill="#632087"/>
<rect x="1145.7" y="393.43" width="8" height="5.34" fill="#682094"/>
<rect x="1145.7" y="388.49" width="8" height="5.34" fill="#6d20a1"/>
<rect x="1145.7" y="383.56" width="8" height="5.34" fill="#7320af"/>
<rect x="1145.7" y="378.62" width="8" height="5.34" fill="#7820bc"/>
<rect x="1145.7" y="373.68" width="8" height="5.34" fill="#7d20c9"/>
<rect x="1145.7" y="368.75" width="8" height="5.34" fill="#7b20d3"/>
<rect x="1145.7" y="363.81" width="8" height="5.34" fill="#7020d8"/>
<rect x="1145.7" y="358.88" width="8" height="5.34" fill="#6520dd"/>
<rect x="1145.7" y="353.94" width="8" height="5.34" fill="#5b20e3"/>
<rect x="1145.7" y="349.00" width="8" height="5.34" fill="#5020e8"/>
<rect x="1145.7" y="344.07" width="8" height="5.34" fill="#4520ed"/>
<rect x="1145.7" y="339.13" width="8" height="5.34" fill="#3d20f0"/>
<rect x="1145.7" y="334.19" width="8" height="5.34" fill="#3820f0"/>
<rect x="1145.7" y="329.26" width="8" height="5.34" fill="#3320f0"/>
<rect x="1145.7" y="324.32" width="8" height="5.34" fill="#2d20f0"/>
<rect x="1145.7" y="319.39" width="8" height="5.34" fill="#2820f0"/>
<rect x="1145.7" y="314.45" width="8" height="5.34" fill="#2320f0"/>
<rect x="1145.7" y="309.51" width="8" height="5.34" fill="#1d28e5"/>
<rect x="1145.7" y="304.58" width="8" height="5.34" fill="#1838d0"/>
<rect x="1145.7" y="299.64" width="8" height="5.34" fill="#1348bb"/>
<rect x="1145.7" y="294.71" width="8" height="5.34" fill="#1058a8"/>
<rect x="1145.7" y="289.77" width="8" height="5.34" fill="#106898"/>
<rect x="1145.7" y="284.83" width="8" height="5.34" fill="#107888"/>
<rect x="1145.7" y="279.90" width="8" height="5.34" fill="#10837c"/>
<rect x="1145.7" y="274.96" width="8" height="5.34" fill="#108875"/>
<rect x="1145.7" y="270.02" width="8" height="5.34" fill="#108d6e"/>
<rect x="1145.7" y="265.09" width="8" height="5.34" fill="#1b956b"/>
<rect x="1145.7" y="260.15" width="8" height="5.34" fill="#30a06d"/>
<rect x="1145.7" y="255.22" width="8" height="5.34" fill="#45ab6f"/>
<rect x="1145.7" y="250.28" width="8" height="5.34" fill="#5db777"/>
<rect x="1145.7" y="245.34" width="8" height="5.34" fill="#78c484"/>
<rect x="1145.7" y="240.41" width="8" height="5.34" fill="#93d191"/>
<rect x="1145.7" y="235.47" width="8" height="5.34" fill="#abdaa5"/>
<rect x="1145.7" y="230.54" width="8" height="5.34" fill="#c2debe"/>
<rect x="1145.7" y="225.60" width="8" height="5.34" fill="#d9e2d7"/>
<rect x="1145.7" y="220.66" width="8" height="5.34" fill="#e5e5da"/>
<rect x="1145.7" y="215.73" width="8" height="5.34" fill="#e7e7c6"/>
<rect x="1145.7" y="210.79" width="8" height="5.34" fill="#ebeba7"/>
<rect x="1145.7" y="205.86" width="8" height="5.34" fill="#f0f084"/>
<rect x="1145.7" y="200.92" width="8" height="5.34" fill="#f0ea68"/>
<rect x="1145.7" y="195.98" width="8" height="5.34" fill="#f0e34d"/>
<rect x="1145.7" y="191.05" width="8" height="5.34" fill="#efd939"/>
<rect x="1145.7" y="186.11" width="8" height="5.34" fill="#eecc2c"/>
<rect x="1145.7" y="181.17" width="8" height="5.34" fill="#edbf1f"/>
<rect x="1145.7" y="176.24" width="8" height="5.34" fill="#ebb117"/>
<rect x="1145.7" y="171.30" width="8" height="5.34" fill="#eaa414"/>
<rect x="1145.7" y="166.37" width="8" height="5.34" fill="#e99711"/>
<rect x="1145.7" y="161.43" width="8" height="5.34" fill="#e68910"/>
<rect x="1145.7" y="156.49" width="8" height="5.34" fill="#e27a10"/>
<rect x="1145.7" y="151.56" width="8" height="5.34" fill="#de6b10"/>
<rect x="1145.7" y="146.62" width="8" height="5.34" fill="#da6318"/>
<rect x="1145.7" y="141.69" width="8" height="5.34" fill="#d66228"/>
<rect x="1145.7" y="136.75" width="8" height="5.34" fill="#d26138"/>
<rect x="1145.7" y="131.81" width="8" height="5.34" fill="#cf614d"/>
<rect x="1145.7" y="126.88" width="8" height="5.34" fill="#cc6468"/>
<rect x="1145.7" y="121.94" width="8" height="5.34" fill="#c96783"/>
<rect x="1145.7" y="117.01" width="8" height="5.34" fill="#cd5c83"/>
<rect x="1145.7" y="112.07" width="8" height="5.34" fill="#d84468"/>
<rect x="1145.7" y="107.13" width="8" height="5.34" fill="#e32c4d"/>
<rect x="1145.7" y="102.20" width="8" height="5.34" fill="#ea1d3b"/>
<rect x="1145.7" y="97.26" width="8" height="5.34" fill="#ee1830"/>
<rect x="1145.7" y="92.32" width="8" height="5.34" fill="#f21325"/>
<rect x="1145.7" y="87.39" width="8" height="5.34" fill="#f50d1b"/>
<rect x="1145.7" y="82.45" width="8" height="5.34" fill="#f90810"/>
<rect x="1145.7" y="77.52" width="8" height="5.34" fill="#fd0305"/>
<rect x="1145.7" y="72.58" width="8" height="5.34" fill="#f70303"/>
<rect x="1145.7" y="67.64" width="8" height="5.34" fill="#e70808"/>
<rect x="1145.7" y="62.71" width="8" height="5.34" fill="#d70d0d"/>
<rect x="1145.7" y="57.77" width="8" height="5.34" fill="#c81313"/>
<rect x="1145.7" y="52.84" width="8" height="5.34" fill="#b81818"/>
<rect x="1145.7" y="47.90" width="8" height="5.34" fill="#a81d1d"/>
</g>
<rect x="1145.7" y="47.9" width="8" height="355.4" fill="none" stroke="#888" stroke-width="0.6"/>
<line x1="1153.7" y1="400.1" x2="1160.9" y2="400.1" stroke="#000" stroke-width="1"/>
<text x="1168.5" y="404.5" font-size="12">-120</text>
<line x1="1153.7" y1="342.1" x2="1160.9" y2="342.1" stroke="#000" stroke-width="1"/>
<text x="1168.5" y="346.5" font-size="12">-20</text>
<line x1="1153.7" y1="284.0" x2="1160.9" y2="284.0" stroke="#000" stroke-width="1"/>
<text x="1168.5" y="288.4" font-size="12">-10</text>
<line x1="1153.7" y1="226.0" x2="1160.9" y2="226.0" stroke="#000" stroke-width="1"/>
<text x="1168.5" y="230.4" font-size="12">0</text>
<line x1="1153.7" y1="168.0" x2="1160.9" y2="168.0" stroke="#000" stroke-width="1"/>
<text x="1168.5" y="172.4" font-size="12">10</text>
<line x1="1153.7" y1="109.9" x2="1160.9" y2="109.9" stroke="#000" stroke-width="1"/>
<text x="1168.5" y="114.3" font-size="12">20</text>
<line x1="1153.7" y1="51.9" x2="1160.9" y2="51.9" stroke="#000" stroke-width="1"/>
<text x="1168.5" y="56.3" font-size="12">120</text>
<text x="1135.8" y="45.3" font-size="12">ppbV</text>
</svg></body></html>
